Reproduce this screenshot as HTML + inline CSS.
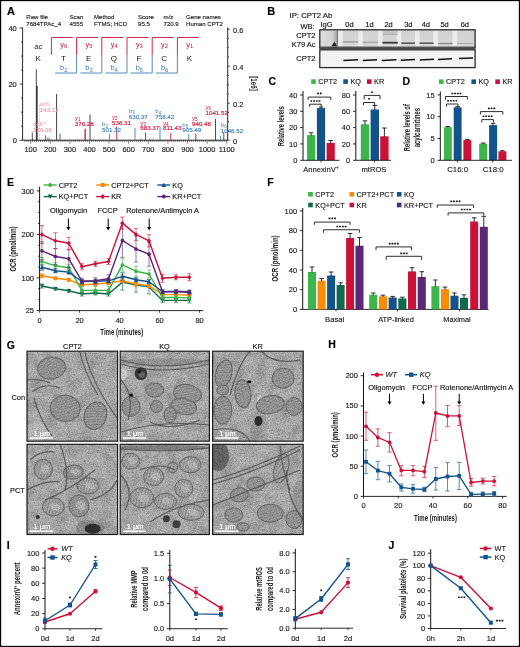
<!DOCTYPE html><html><head><meta charset="utf-8"><style>html,body{margin:0;padding:0;background:#fff;}svg{display:block;will-change:transform;} text{font-family:"Liberation Sans", sans-serif;}</style></head><body>
<svg width="520" height="647" viewBox="0 0 520 647" font-family="Liberation Sans, sans-serif">
<rect x="0.00" y="0.00" width="520.00" height="647.00" fill="#fff" />
<text x="7.00" y="15.00" font-size="11" text-anchor="start" fill="#000" stroke="#000" stroke-width="0.14" font-weight="bold" font-style="normal" >A</text>
<text x="26.30" y="18.70" font-size="6.1" text-anchor="start" fill="#1a1a1a" stroke="#1a1a1a" stroke-width="0.14" font-weight="normal" font-style="normal" >Raw file</text>
<text x="26.30" y="25.90" font-size="6.1" text-anchor="start" fill="#1a1a1a" stroke="#1a1a1a" stroke-width="0.14" font-weight="normal" font-style="normal" >7684TPAc_4</text>
<text x="69.50" y="18.70" font-size="6.1" text-anchor="start" fill="#1a1a1a" stroke="#1a1a1a" stroke-width="0.14" font-weight="normal" font-style="normal" >Scan</text>
<text x="69.50" y="25.90" font-size="6.1" text-anchor="start" fill="#1a1a1a" stroke="#1a1a1a" stroke-width="0.14" font-weight="normal" font-style="normal" >4555</text>
<text x="94.00" y="18.70" font-size="6.1" text-anchor="start" fill="#1a1a1a" stroke="#1a1a1a" stroke-width="0.14" font-weight="normal" font-style="normal" >Method</text>
<text x="94.00" y="25.90" font-size="6.1" text-anchor="start" fill="#1a1a1a" stroke="#1a1a1a" stroke-width="0.14" font-weight="normal" font-style="normal" >FTMS; HCD</text>
<text x="138.00" y="18.70" font-size="6.1" text-anchor="start" fill="#1a1a1a" stroke="#1a1a1a" stroke-width="0.14" font-weight="normal" font-style="normal" >Score</text>
<text x="138.00" y="25.90" font-size="6.1" text-anchor="start" fill="#1a1a1a" stroke="#1a1a1a" stroke-width="0.14" font-weight="normal" font-style="normal" >95.5</text>
<text x="163.50" y="18.70" font-size="6.1" text-anchor="start" fill="#1a1a1a" stroke="#1a1a1a" stroke-width="0.14" font-weight="normal" font-style="normal" >m/z</text>
<text x="163.50" y="25.90" font-size="6.1" text-anchor="start" fill="#1a1a1a" stroke="#1a1a1a" stroke-width="0.14" font-weight="normal" font-style="normal" >720.9</text>
<text x="186.00" y="18.70" font-size="6.1" text-anchor="start" fill="#1a1a1a" stroke="#1a1a1a" stroke-width="0.14" font-weight="normal" font-style="normal" >Gene names</text>
<text x="186.00" y="25.90" font-size="6.1" text-anchor="start" fill="#1a1a1a" stroke="#1a1a1a" stroke-width="0.14" font-weight="normal" font-style="normal" >Human CPT2</text>
<polyline points="51.40,55.00 51.40,37.50 72.90,37.50" stroke="#cc1137" stroke-width="0.9" fill="none" stroke-linejoin="round" />
<polyline points="76.60,55.00 76.60,37.50 98.10,37.50" stroke="#cc1137" stroke-width="0.9" fill="none" stroke-linejoin="round" />
<polyline points="55.10,73.00 76.60,73.00 76.60,55.00" stroke="#3f7fb5" stroke-width="0.9" fill="none" stroke-linejoin="round" />
<polyline points="101.80,55.00 101.80,37.50 123.30,37.50" stroke="#cc1137" stroke-width="0.9" fill="none" stroke-linejoin="round" />
<polyline points="80.30,73.00 101.80,73.00 101.80,55.00" stroke="#3f7fb5" stroke-width="0.9" fill="none" stroke-linejoin="round" />
<polyline points="127.00,55.00 127.00,37.50 148.50,37.50" stroke="#cc1137" stroke-width="0.9" fill="none" stroke-linejoin="round" />
<polyline points="105.50,73.00 127.00,73.00 127.00,55.00" stroke="#3f7fb5" stroke-width="0.9" fill="none" stroke-linejoin="round" />
<polyline points="152.20,55.00 152.20,37.50 173.70,37.50" stroke="#cc1137" stroke-width="0.9" fill="none" stroke-linejoin="round" />
<polyline points="130.70,73.00 152.20,73.00 152.20,55.00" stroke="#3f7fb5" stroke-width="0.9" fill="none" stroke-linejoin="round" />
<polyline points="177.40,55.00 177.40,37.50 198.90,37.50" stroke="#cc1137" stroke-width="0.9" fill="none" stroke-linejoin="round" />
<polyline points="155.90,73.00 177.40,73.00 177.40,55.00" stroke="#3f7fb5" stroke-width="0.9" fill="none" stroke-linejoin="round" />
<text x="38.20" y="60.80" font-size="8.0" text-anchor="middle" fill="#151515" stroke="#151515" stroke-width="0" font-weight="normal" font-style="normal" >K</text>
<text x="63.40" y="60.80" font-size="8.0" text-anchor="middle" fill="#151515" stroke="#151515" stroke-width="0" font-weight="normal" font-style="normal" >T</text>
<text x="88.60" y="60.80" font-size="8.0" text-anchor="middle" fill="#151515" stroke="#151515" stroke-width="0" font-weight="normal" font-style="normal" >E</text>
<text x="113.80" y="60.80" font-size="8.0" text-anchor="middle" fill="#151515" stroke="#151515" stroke-width="0" font-weight="normal" font-style="normal" >Q</text>
<text x="139.00" y="60.80" font-size="8.0" text-anchor="middle" fill="#151515" stroke="#151515" stroke-width="0" font-weight="normal" font-style="normal" >F</text>
<text x="164.20" y="60.80" font-size="8.0" text-anchor="middle" fill="#151515" stroke="#151515" stroke-width="0" font-weight="normal" font-style="normal" >C</text>
<text x="189.40" y="60.80" font-size="8.0" text-anchor="middle" fill="#151515" stroke="#151515" stroke-width="0" font-weight="normal" font-style="normal" >K</text>
<text x="38.20" y="49.40" font-size="7.4" text-anchor="middle" fill="#151515" stroke="#151515" stroke-width="0" font-weight="normal" font-style="normal" >ac</text>
<text x="63.80" y="46.6" font-size="7.4" text-anchor="middle" fill="#cc1137">y<tspan font-size="5.9" dy="1.6">6</tspan></text>
<text x="89.00" y="46.6" font-size="7.4" text-anchor="middle" fill="#cc1137">y<tspan font-size="5.9" dy="1.6">5</tspan></text>
<text x="114.20" y="46.6" font-size="7.4" text-anchor="middle" fill="#cc1137">y<tspan font-size="5.9" dy="1.6">4</tspan></text>
<text x="139.40" y="46.6" font-size="7.4" text-anchor="middle" fill="#cc1137">y<tspan font-size="5.9" dy="1.6">3</tspan></text>
<text x="164.60" y="46.6" font-size="7.4" text-anchor="middle" fill="#cc1137">y<tspan font-size="5.9" dy="1.6">2</tspan></text>
<text x="189.80" y="46.6" font-size="7.4" text-anchor="middle" fill="#cc1137">y<tspan font-size="5.9" dy="1.6">1</tspan></text>
<text x="63.80" y="69.9" font-size="7.4" text-anchor="middle" fill="#3f7fb5">b<tspan font-size="5.9" dy="1.6">2</tspan></text>
<text x="89.00" y="69.9" font-size="7.4" text-anchor="middle" fill="#3f7fb5">b<tspan font-size="5.9" dy="1.6">3</tspan></text>
<text x="114.20" y="69.9" font-size="7.4" text-anchor="middle" fill="#3f7fb5">b<tspan font-size="5.9" dy="1.6">4</tspan></text>
<text x="139.40" y="69.9" font-size="7.4" text-anchor="middle" fill="#3f7fb5">b<tspan font-size="5.9" dy="1.6">5</tspan></text>
<text x="164.60" y="69.9" font-size="7.4" text-anchor="middle" fill="#3f7fb5">b<tspan font-size="5.9" dy="1.6">6</tspan></text>
<line x1="22.60" y1="27.50" x2="22.60" y2="140.20" stroke="#111" stroke-width="0.9" />
<line x1="22.60" y1="140.20" x2="228.00" y2="140.20" stroke="#111" stroke-width="0.9" />
<line x1="227.70" y1="27.50" x2="227.70" y2="140.20" stroke="#111" stroke-width="0.9" />
<line x1="19.60" y1="140.20" x2="22.60" y2="140.20" stroke="#111" stroke-width="0.8" />
<line x1="21.00" y1="126.17" x2="22.60" y2="126.17" stroke="#111" stroke-width="0.8" />
<line x1="21.00" y1="112.15" x2="22.60" y2="112.15" stroke="#111" stroke-width="0.8" />
<line x1="21.00" y1="98.12" x2="22.60" y2="98.12" stroke="#111" stroke-width="0.8" />
<line x1="19.60" y1="84.10" x2="22.60" y2="84.10" stroke="#111" stroke-width="0.8" />
<line x1="21.00" y1="70.07" x2="22.60" y2="70.07" stroke="#111" stroke-width="0.8" />
<line x1="21.00" y1="56.05" x2="22.60" y2="56.05" stroke="#111" stroke-width="0.8" />
<line x1="21.00" y1="42.02" x2="22.60" y2="42.02" stroke="#111" stroke-width="0.8" />
<line x1="19.60" y1="28.00" x2="22.60" y2="28.00" stroke="#111" stroke-width="0.8" />
<text x="16.80" y="30.70" font-size="7.5" text-anchor="end" fill="#1a1a1a" stroke="#1a1a1a" stroke-width="0.14" font-weight="normal" font-style="normal" >40</text>
<text x="16.80" y="86.80" font-size="7.5" text-anchor="end" fill="#1a1a1a" stroke="#1a1a1a" stroke-width="0.14" font-weight="normal" font-style="normal" >20</text>
<text x="16.80" y="142.90" font-size="7.5" text-anchor="end" fill="#1a1a1a" stroke="#1a1a1a" stroke-width="0.14" font-weight="normal" font-style="normal" >0</text>
<line x1="227.70" y1="140.20" x2="229.90" y2="140.20" stroke="#111" stroke-width="0.7" />
<line x1="227.70" y1="130.95" x2="229.00" y2="130.95" stroke="#111" stroke-width="0.7" />
<line x1="227.70" y1="121.70" x2="229.00" y2="121.70" stroke="#111" stroke-width="0.7" />
<line x1="227.70" y1="112.45" x2="229.00" y2="112.45" stroke="#111" stroke-width="0.7" />
<line x1="227.70" y1="103.20" x2="229.90" y2="103.20" stroke="#111" stroke-width="0.7" />
<line x1="227.70" y1="93.95" x2="229.00" y2="93.95" stroke="#111" stroke-width="0.7" />
<line x1="227.70" y1="84.70" x2="229.00" y2="84.70" stroke="#111" stroke-width="0.7" />
<line x1="227.70" y1="75.45" x2="229.00" y2="75.45" stroke="#111" stroke-width="0.7" />
<line x1="227.70" y1="66.20" x2="229.90" y2="66.20" stroke="#111" stroke-width="0.7" />
<line x1="227.70" y1="56.95" x2="229.00" y2="56.95" stroke="#111" stroke-width="0.7" />
<line x1="227.70" y1="47.70" x2="229.00" y2="47.70" stroke="#111" stroke-width="0.7" />
<line x1="227.70" y1="38.45" x2="229.00" y2="38.45" stroke="#111" stroke-width="0.7" />
<line x1="227.70" y1="29.20" x2="229.90" y2="29.20" stroke="#111" stroke-width="0.7" />
<text x="233.00" y="32.90" font-size="7.5" text-anchor="start" fill="#1a1a1a" stroke="#1a1a1a" stroke-width="0.14" font-weight="normal" font-style="normal" >0.6</text>
<text x="233.00" y="69.90" font-size="7.5" text-anchor="start" fill="#1a1a1a" stroke="#1a1a1a" stroke-width="0.14" font-weight="normal" font-style="normal" >0.4</text>
<text x="233.00" y="106.90" font-size="7.5" text-anchor="start" fill="#1a1a1a" stroke="#1a1a1a" stroke-width="0.14" font-weight="normal" font-style="normal" >0.2</text>
<text x="233.00" y="143.90" font-size="7.5" text-anchor="start" fill="#1a1a1a" stroke="#1a1a1a" stroke-width="0.14" font-weight="normal" font-style="normal" >0</text>
<text transform="translate(251.40,83.50) rotate(90) scale(0.729,1)" font-size="8.5" text-anchor="middle" fill="#1a1a1a" font-weight="bold" font-style="normal">[1e6]</text>
<line x1="24.82" y1="140.20" x2="24.82" y2="141.90" stroke="#111" stroke-width="0.6" />
<line x1="26.78" y1="140.20" x2="26.78" y2="141.90" stroke="#111" stroke-width="0.6" />
<line x1="28.74" y1="140.20" x2="28.74" y2="141.90" stroke="#111" stroke-width="0.6" />
<line x1="30.70" y1="140.20" x2="30.70" y2="143.60" stroke="#111" stroke-width="0.6" />
<line x1="32.66" y1="140.20" x2="32.66" y2="141.90" stroke="#111" stroke-width="0.6" />
<line x1="34.62" y1="140.20" x2="34.62" y2="141.90" stroke="#111" stroke-width="0.6" />
<line x1="36.58" y1="140.20" x2="36.58" y2="141.90" stroke="#111" stroke-width="0.6" />
<line x1="38.54" y1="140.20" x2="38.54" y2="141.90" stroke="#111" stroke-width="0.6" />
<line x1="40.50" y1="140.20" x2="40.50" y2="141.90" stroke="#111" stroke-width="0.6" />
<line x1="42.46" y1="140.20" x2="42.46" y2="141.90" stroke="#111" stroke-width="0.6" />
<line x1="44.42" y1="140.20" x2="44.42" y2="141.90" stroke="#111" stroke-width="0.6" />
<line x1="46.38" y1="140.20" x2="46.38" y2="141.90" stroke="#111" stroke-width="0.6" />
<line x1="48.34" y1="140.20" x2="48.34" y2="141.90" stroke="#111" stroke-width="0.6" />
<line x1="50.30" y1="140.20" x2="50.30" y2="143.60" stroke="#111" stroke-width="0.6" />
<line x1="52.26" y1="140.20" x2="52.26" y2="141.90" stroke="#111" stroke-width="0.6" />
<line x1="54.22" y1="140.20" x2="54.22" y2="141.90" stroke="#111" stroke-width="0.6" />
<line x1="56.18" y1="140.20" x2="56.18" y2="141.90" stroke="#111" stroke-width="0.6" />
<line x1="58.14" y1="140.20" x2="58.14" y2="141.90" stroke="#111" stroke-width="0.6" />
<line x1="60.10" y1="140.20" x2="60.10" y2="141.90" stroke="#111" stroke-width="0.6" />
<line x1="62.06" y1="140.20" x2="62.06" y2="141.90" stroke="#111" stroke-width="0.6" />
<line x1="64.02" y1="140.20" x2="64.02" y2="141.90" stroke="#111" stroke-width="0.6" />
<line x1="65.98" y1="140.20" x2="65.98" y2="141.90" stroke="#111" stroke-width="0.6" />
<line x1="67.94" y1="140.20" x2="67.94" y2="141.90" stroke="#111" stroke-width="0.6" />
<line x1="69.90" y1="140.20" x2="69.90" y2="143.60" stroke="#111" stroke-width="0.6" />
<line x1="71.86" y1="140.20" x2="71.86" y2="141.90" stroke="#111" stroke-width="0.6" />
<line x1="73.82" y1="140.20" x2="73.82" y2="141.90" stroke="#111" stroke-width="0.6" />
<line x1="75.78" y1="140.20" x2="75.78" y2="141.90" stroke="#111" stroke-width="0.6" />
<line x1="77.74" y1="140.20" x2="77.74" y2="141.90" stroke="#111" stroke-width="0.6" />
<line x1="79.70" y1="140.20" x2="79.70" y2="141.90" stroke="#111" stroke-width="0.6" />
<line x1="81.66" y1="140.20" x2="81.66" y2="141.90" stroke="#111" stroke-width="0.6" />
<line x1="83.62" y1="140.20" x2="83.62" y2="141.90" stroke="#111" stroke-width="0.6" />
<line x1="85.58" y1="140.20" x2="85.58" y2="141.90" stroke="#111" stroke-width="0.6" />
<line x1="87.54" y1="140.20" x2="87.54" y2="141.90" stroke="#111" stroke-width="0.6" />
<line x1="89.50" y1="140.20" x2="89.50" y2="143.60" stroke="#111" stroke-width="0.6" />
<line x1="91.46" y1="140.20" x2="91.46" y2="141.90" stroke="#111" stroke-width="0.6" />
<line x1="93.42" y1="140.20" x2="93.42" y2="141.90" stroke="#111" stroke-width="0.6" />
<line x1="95.38" y1="140.20" x2="95.38" y2="141.90" stroke="#111" stroke-width="0.6" />
<line x1="97.34" y1="140.20" x2="97.34" y2="141.90" stroke="#111" stroke-width="0.6" />
<line x1="99.30" y1="140.20" x2="99.30" y2="141.90" stroke="#111" stroke-width="0.6" />
<line x1="101.26" y1="140.20" x2="101.26" y2="141.90" stroke="#111" stroke-width="0.6" />
<line x1="103.22" y1="140.20" x2="103.22" y2="141.90" stroke="#111" stroke-width="0.6" />
<line x1="105.18" y1="140.20" x2="105.18" y2="141.90" stroke="#111" stroke-width="0.6" />
<line x1="107.14" y1="140.20" x2="107.14" y2="141.90" stroke="#111" stroke-width="0.6" />
<line x1="109.10" y1="140.20" x2="109.10" y2="143.60" stroke="#111" stroke-width="0.6" />
<line x1="111.06" y1="140.20" x2="111.06" y2="141.90" stroke="#111" stroke-width="0.6" />
<line x1="113.02" y1="140.20" x2="113.02" y2="141.90" stroke="#111" stroke-width="0.6" />
<line x1="114.98" y1="140.20" x2="114.98" y2="141.90" stroke="#111" stroke-width="0.6" />
<line x1="116.94" y1="140.20" x2="116.94" y2="141.90" stroke="#111" stroke-width="0.6" />
<line x1="118.90" y1="140.20" x2="118.90" y2="141.90" stroke="#111" stroke-width="0.6" />
<line x1="120.86" y1="140.20" x2="120.86" y2="141.90" stroke="#111" stroke-width="0.6" />
<line x1="122.82" y1="140.20" x2="122.82" y2="141.90" stroke="#111" stroke-width="0.6" />
<line x1="124.78" y1="140.20" x2="124.78" y2="141.90" stroke="#111" stroke-width="0.6" />
<line x1="126.74" y1="140.20" x2="126.74" y2="141.90" stroke="#111" stroke-width="0.6" />
<line x1="128.70" y1="140.20" x2="128.70" y2="143.60" stroke="#111" stroke-width="0.6" />
<line x1="130.66" y1="140.20" x2="130.66" y2="141.90" stroke="#111" stroke-width="0.6" />
<line x1="132.62" y1="140.20" x2="132.62" y2="141.90" stroke="#111" stroke-width="0.6" />
<line x1="134.58" y1="140.20" x2="134.58" y2="141.90" stroke="#111" stroke-width="0.6" />
<line x1="136.54" y1="140.20" x2="136.54" y2="141.90" stroke="#111" stroke-width="0.6" />
<line x1="138.50" y1="140.20" x2="138.50" y2="141.90" stroke="#111" stroke-width="0.6" />
<line x1="140.46" y1="140.20" x2="140.46" y2="141.90" stroke="#111" stroke-width="0.6" />
<line x1="142.42" y1="140.20" x2="142.42" y2="141.90" stroke="#111" stroke-width="0.6" />
<line x1="144.38" y1="140.20" x2="144.38" y2="141.90" stroke="#111" stroke-width="0.6" />
<line x1="146.34" y1="140.20" x2="146.34" y2="141.90" stroke="#111" stroke-width="0.6" />
<line x1="148.30" y1="140.20" x2="148.30" y2="143.60" stroke="#111" stroke-width="0.6" />
<line x1="150.26" y1="140.20" x2="150.26" y2="141.90" stroke="#111" stroke-width="0.6" />
<line x1="152.22" y1="140.20" x2="152.22" y2="141.90" stroke="#111" stroke-width="0.6" />
<line x1="154.18" y1="140.20" x2="154.18" y2="141.90" stroke="#111" stroke-width="0.6" />
<line x1="156.14" y1="140.20" x2="156.14" y2="141.90" stroke="#111" stroke-width="0.6" />
<line x1="158.10" y1="140.20" x2="158.10" y2="141.90" stroke="#111" stroke-width="0.6" />
<line x1="160.06" y1="140.20" x2="160.06" y2="141.90" stroke="#111" stroke-width="0.6" />
<line x1="162.02" y1="140.20" x2="162.02" y2="141.90" stroke="#111" stroke-width="0.6" />
<line x1="163.98" y1="140.20" x2="163.98" y2="141.90" stroke="#111" stroke-width="0.6" />
<line x1="165.94" y1="140.20" x2="165.94" y2="141.90" stroke="#111" stroke-width="0.6" />
<line x1="167.90" y1="140.20" x2="167.90" y2="143.60" stroke="#111" stroke-width="0.6" />
<line x1="169.86" y1="140.20" x2="169.86" y2="141.90" stroke="#111" stroke-width="0.6" />
<line x1="171.82" y1="140.20" x2="171.82" y2="141.90" stroke="#111" stroke-width="0.6" />
<line x1="173.78" y1="140.20" x2="173.78" y2="141.90" stroke="#111" stroke-width="0.6" />
<line x1="175.74" y1="140.20" x2="175.74" y2="141.90" stroke="#111" stroke-width="0.6" />
<line x1="177.70" y1="140.20" x2="177.70" y2="141.90" stroke="#111" stroke-width="0.6" />
<line x1="179.66" y1="140.20" x2="179.66" y2="141.90" stroke="#111" stroke-width="0.6" />
<line x1="181.62" y1="140.20" x2="181.62" y2="141.90" stroke="#111" stroke-width="0.6" />
<line x1="183.58" y1="140.20" x2="183.58" y2="141.90" stroke="#111" stroke-width="0.6" />
<line x1="185.54" y1="140.20" x2="185.54" y2="141.90" stroke="#111" stroke-width="0.6" />
<line x1="187.50" y1="140.20" x2="187.50" y2="143.60" stroke="#111" stroke-width="0.6" />
<line x1="189.46" y1="140.20" x2="189.46" y2="141.90" stroke="#111" stroke-width="0.6" />
<line x1="191.42" y1="140.20" x2="191.42" y2="141.90" stroke="#111" stroke-width="0.6" />
<line x1="193.38" y1="140.20" x2="193.38" y2="141.90" stroke="#111" stroke-width="0.6" />
<line x1="195.34" y1="140.20" x2="195.34" y2="141.90" stroke="#111" stroke-width="0.6" />
<line x1="197.30" y1="140.20" x2="197.30" y2="141.90" stroke="#111" stroke-width="0.6" />
<line x1="199.26" y1="140.20" x2="199.26" y2="141.90" stroke="#111" stroke-width="0.6" />
<line x1="201.22" y1="140.20" x2="201.22" y2="141.90" stroke="#111" stroke-width="0.6" />
<line x1="203.18" y1="140.20" x2="203.18" y2="141.90" stroke="#111" stroke-width="0.6" />
<line x1="205.14" y1="140.20" x2="205.14" y2="141.90" stroke="#111" stroke-width="0.6" />
<line x1="207.10" y1="140.20" x2="207.10" y2="143.60" stroke="#111" stroke-width="0.6" />
<line x1="209.06" y1="140.20" x2="209.06" y2="141.90" stroke="#111" stroke-width="0.6" />
<line x1="211.02" y1="140.20" x2="211.02" y2="141.90" stroke="#111" stroke-width="0.6" />
<line x1="212.98" y1="140.20" x2="212.98" y2="141.90" stroke="#111" stroke-width="0.6" />
<line x1="214.94" y1="140.20" x2="214.94" y2="141.90" stroke="#111" stroke-width="0.6" />
<line x1="216.90" y1="140.20" x2="216.90" y2="141.90" stroke="#111" stroke-width="0.6" />
<line x1="218.86" y1="140.20" x2="218.86" y2="141.90" stroke="#111" stroke-width="0.6" />
<line x1="220.82" y1="140.20" x2="220.82" y2="141.90" stroke="#111" stroke-width="0.6" />
<line x1="222.78" y1="140.20" x2="222.78" y2="141.90" stroke="#111" stroke-width="0.6" />
<line x1="224.74" y1="140.20" x2="224.74" y2="141.90" stroke="#111" stroke-width="0.6" />
<line x1="226.70" y1="140.20" x2="226.70" y2="143.60" stroke="#111" stroke-width="0.6" />
<text x="30.70" y="152.20" font-size="7.5" text-anchor="middle" fill="#1a1a1a" stroke="#1a1a1a" stroke-width="0.14" font-weight="normal" font-style="normal" >100</text>
<text x="50.30" y="152.20" font-size="7.5" text-anchor="middle" fill="#1a1a1a" stroke="#1a1a1a" stroke-width="0.14" font-weight="normal" font-style="normal" >200</text>
<text x="69.90" y="152.20" font-size="7.5" text-anchor="middle" fill="#1a1a1a" stroke="#1a1a1a" stroke-width="0.14" font-weight="normal" font-style="normal" >300</text>
<text x="89.50" y="152.20" font-size="7.5" text-anchor="middle" fill="#1a1a1a" stroke="#1a1a1a" stroke-width="0.14" font-weight="normal" font-style="normal" >400</text>
<text x="109.10" y="152.20" font-size="7.5" text-anchor="middle" fill="#1a1a1a" stroke="#1a1a1a" stroke-width="0.14" font-weight="normal" font-style="normal" >500</text>
<text x="128.70" y="152.20" font-size="7.5" text-anchor="middle" fill="#1a1a1a" stroke="#1a1a1a" stroke-width="0.14" font-weight="normal" font-style="normal" >600</text>
<text x="148.30" y="152.20" font-size="7.5" text-anchor="middle" fill="#1a1a1a" stroke="#1a1a1a" stroke-width="0.14" font-weight="normal" font-style="normal" >700</text>
<text x="167.90" y="152.20" font-size="7.5" text-anchor="middle" fill="#1a1a1a" stroke="#1a1a1a" stroke-width="0.14" font-weight="normal" font-style="normal" >800</text>
<text x="187.50" y="152.20" font-size="7.5" text-anchor="middle" fill="#1a1a1a" stroke="#1a1a1a" stroke-width="0.14" font-weight="normal" font-style="normal" >900</text>
<text x="207.10" y="152.20" font-size="7.5" text-anchor="middle" fill="#1a1a1a" stroke="#1a1a1a" stroke-width="0.14" font-weight="normal" font-style="normal" >1000</text>
<text x="226.70" y="152.20" font-size="7.5" text-anchor="middle" fill="#1a1a1a" stroke="#1a1a1a" stroke-width="0.14" font-weight="normal" font-style="normal" >1100</text>
<line x1="32.30" y1="132.50" x2="32.30" y2="140.20" stroke="#222" stroke-width="0.8" />
<line x1="36.40" y1="69.20" x2="36.40" y2="140.20" stroke="#666" stroke-width="1.2" />
<line x1="37.00" y1="86.00" x2="37.00" y2="140.20" stroke="#111" stroke-width="1.1" />
<line x1="45.60" y1="135.40" x2="45.60" y2="140.20" stroke="#222" stroke-width="0.7" />
<line x1="47.90" y1="137.00" x2="47.90" y2="140.20" stroke="#333" stroke-width="0.6" />
<line x1="49.50" y1="138.00" x2="49.50" y2="140.20" stroke="#444" stroke-width="0.5" />
<line x1="56.60" y1="94.00" x2="56.60" y2="140.20" stroke="#444" stroke-width="1.0" />
<line x1="60.00" y1="133.80" x2="60.00" y2="140.20" stroke="#444" stroke-width="0.9" />
<line x1="75.00" y1="139.00" x2="75.00" y2="140.20" stroke="#666" stroke-width="0.4" />
<line x1="80.00" y1="139.00" x2="80.00" y2="140.20" stroke="#666" stroke-width="0.4" />
<line x1="85.00" y1="128.80" x2="85.00" y2="140.20" stroke="#cc1137" stroke-width="1.0" />
<line x1="85.60" y1="129.00" x2="85.60" y2="140.20" stroke="#333" stroke-width="0.5" />
<line x1="90.00" y1="114.50" x2="90.00" y2="140.20" stroke="#444" stroke-width="1.0" />
<line x1="109.60" y1="133.80" x2="109.60" y2="140.20" stroke="#3f7fb5" stroke-width="0.9" />
<line x1="116.80" y1="126.50" x2="116.80" y2="140.20" stroke="#cc1137" stroke-width="0.9" />
<line x1="135.00" y1="128.00" x2="135.00" y2="140.20" stroke="#3f7fb5" stroke-width="0.9" />
<line x1="145.50" y1="132.50" x2="145.50" y2="140.20" stroke="#cc1137" stroke-width="0.9" />
<line x1="141.00" y1="138.50" x2="141.00" y2="140.20" stroke="#333" stroke-width="0.5" />
<line x1="150.00" y1="138.50" x2="150.00" y2="140.20" stroke="#333" stroke-width="0.5" />
<line x1="153.00" y1="137.50" x2="153.00" y2="140.20" stroke="#e69a2a" stroke-width="0.6" />
<line x1="160.00" y1="126.30" x2="160.00" y2="140.20" stroke="#3f7fb5" stroke-width="0.9" />
<line x1="170.80" y1="133.00" x2="170.80" y2="140.20" stroke="#cc1137" stroke-width="0.9" />
<line x1="188.80" y1="133.80" x2="188.80" y2="140.20" stroke="#3f7fb5" stroke-width="0.9" />
<line x1="195.80" y1="133.80" x2="195.80" y2="140.20" stroke="#cc1137" stroke-width="0.9" />
<line x1="215.50" y1="118.80" x2="215.50" y2="140.20" stroke="#cc1137" stroke-width="1.0" />
<line x1="220.50" y1="136.00" x2="220.50" y2="140.20" stroke="#3f7fb5" stroke-width="0.8" />
<line x1="223.80" y1="132.50" x2="223.80" y2="140.20" stroke="#555" stroke-width="1.0" />
<line x1="39.50" y1="105.00" x2="39.50" y2="140.20" stroke="#eb9aab" stroke-width="0.6" stroke-dasharray="2,1.2"/>
<text x="39.50" y="106.00" font-size="6.2" fill="#eb9aab">acK</text>
<text x="39.50" y="111.70" font-size="6.2" text-anchor="start" fill="#eb9aab" stroke="#eb9aab" stroke-width="0.14" font-weight="normal" font-style="normal" >143.12</text>
<text x="33.00" y="126.30" font-size="6.2" fill="#eb9aab">acK*</text>
<text x="33.00" y="132.00" font-size="6.2" text-anchor="start" fill="#eb9aab" stroke="#eb9aab" stroke-width="0.14" font-weight="normal" font-style="normal" >126.09</text>
<text x="74.80" y="120.00" font-size="6.2" fill="#cc1137">y<tspan font-size="4.5" dy="1.2">1</tspan></text>
<text x="74.80" y="125.70" font-size="6.2" text-anchor="start" fill="#cc1137" stroke="#cc1137" stroke-width="0.14" font-weight="normal" font-style="normal" >376.28</text>
<text x="102.00" y="126.30" font-size="6.2" fill="#3f7fb5">b<tspan font-size="4.5" dy="1.2">2</tspan></text>
<text x="102.00" y="132.00" font-size="6.2" text-anchor="start" fill="#3f7fb5" stroke="#3f7fb5" stroke-width="0.14" font-weight="normal" font-style="normal" >501.32</text>
<text x="112.00" y="119.20" font-size="6.2" fill="#cc1137">y<tspan font-size="4.5" dy="1.2">2</tspan></text>
<text x="112.00" y="124.90" font-size="6.2" text-anchor="start" fill="#cc1137" stroke="#cc1137" stroke-width="0.14" font-weight="normal" font-style="normal" >536.31</text>
<text x="128.80" y="113.00" font-size="6.2" fill="#3f7fb5">b<tspan font-size="4.5" dy="1.2">3</tspan></text>
<text x="128.80" y="118.70" font-size="6.2" text-anchor="start" fill="#3f7fb5" stroke="#3f7fb5" stroke-width="0.14" font-weight="normal" font-style="normal" >630.37</text>
<text x="140.30" y="124.60" font-size="6.2" fill="#cc1137">y<tspan font-size="4.5" dy="1.2">3</tspan></text>
<text x="140.30" y="130.30" font-size="6.2" text-anchor="start" fill="#cc1137" stroke="#cc1137" stroke-width="0.14" font-weight="normal" font-style="normal" >683.37</text>
<text x="155.30" y="113.30" font-size="6.2" fill="#3f7fb5">b<tspan font-size="4.5" dy="1.2">4</tspan></text>
<text x="155.30" y="119.00" font-size="6.2" text-anchor="start" fill="#3f7fb5" stroke="#3f7fb5" stroke-width="0.14" font-weight="normal" font-style="normal" >758.42</text>
<text x="163.00" y="124.60" font-size="6.2" fill="#cc1137">y<tspan font-size="4.5" dy="1.2">4</tspan></text>
<text x="163.00" y="130.30" font-size="6.2" text-anchor="start" fill="#cc1137" stroke="#cc1137" stroke-width="0.14" font-weight="normal" font-style="normal" >811.43</text>
<text x="182.30" y="126.60" font-size="6.2" fill="#3f7fb5">b<tspan font-size="4.5" dy="1.2">5</tspan></text>
<text x="182.30" y="132.30" font-size="6.2" text-anchor="start" fill="#3f7fb5" stroke="#3f7fb5" stroke-width="0.14" font-weight="normal" font-style="normal" >905.49</text>
<text x="192.00" y="120.00" font-size="6.2" fill="#cc1137">y<tspan font-size="4.5" dy="1.2">5</tspan></text>
<text x="192.00" y="125.70" font-size="6.2" text-anchor="start" fill="#cc1137" stroke="#cc1137" stroke-width="0.14" font-weight="normal" font-style="normal" >940.48</text>
<text x="205.50" y="109.20" font-size="6.2" fill="#cc1137">y<tspan font-size="4.5" dy="1.2">6</tspan></text>
<text x="205.50" y="114.90" font-size="6.2" text-anchor="start" fill="#cc1137" stroke="#cc1137" stroke-width="0.14" font-weight="normal" font-style="normal" >1041.52</text>
<text x="220.80" y="127.20" font-size="6.2" fill="#3f7fb5">b<tspan font-size="4.5" dy="1.2">6</tspan></text>
<text x="220.80" y="132.90" font-size="6.2" text-anchor="start" fill="#3f7fb5" stroke="#3f7fb5" stroke-width="0.14" font-weight="normal" font-style="normal" >1046.52</text>
<text x="267.30" y="14.80" font-size="11" text-anchor="start" fill="#000" stroke="#000" stroke-width="0.14" font-weight="bold" font-style="normal" >B</text>
<text x="289.50" y="17.60" font-size="7.8" text-anchor="start" fill="#111" stroke="#111" stroke-width="0.14" font-weight="normal" font-style="normal" >IP: CPT2 Ab</text>
<text x="300.50" y="28.60" font-size="7.5" text-anchor="start" fill="#111" stroke="#111" stroke-width="0.14" font-weight="normal" font-style="normal" >WB:</text>
<text x="326.50" y="27.20" font-size="7.5" text-anchor="middle" fill="#111" stroke="#111" stroke-width="0.14" font-weight="normal" font-style="normal" >IgG</text>
<text x="349.50" y="27.20" font-size="7.5" text-anchor="middle" fill="#111" stroke="#111" stroke-width="0.14" font-weight="normal" font-style="normal" >0d</text>
<text x="369.50" y="27.20" font-size="7.5" text-anchor="middle" fill="#111" stroke="#111" stroke-width="0.14" font-weight="normal" font-style="normal" >1d</text>
<text x="388.60" y="27.20" font-size="7.5" text-anchor="middle" fill="#111" stroke="#111" stroke-width="0.14" font-weight="normal" font-style="normal" >2d</text>
<text x="408.30" y="27.20" font-size="7.5" text-anchor="middle" fill="#111" stroke="#111" stroke-width="0.14" font-weight="normal" font-style="normal" >3d</text>
<text x="425.80" y="27.20" font-size="7.5" text-anchor="middle" fill="#111" stroke="#111" stroke-width="0.14" font-weight="normal" font-style="normal" >4d</text>
<text x="444.60" y="27.20" font-size="7.5" text-anchor="middle" fill="#111" stroke="#111" stroke-width="0.14" font-weight="normal" font-style="normal" >5d</text>
<text x="464.80" y="27.20" font-size="7.5" text-anchor="middle" fill="#111" stroke="#111" stroke-width="0.14" font-weight="normal" font-style="normal" >6d</text>
<text x="315.50" y="37.80" font-size="7.5" text-anchor="end" fill="#111" stroke="#111" stroke-width="0.14" font-weight="normal" font-style="normal" >CPT2</text>
<text x="315.50" y="47.20" font-size="7.5" text-anchor="end" fill="#111" stroke="#111" stroke-width="0.14" font-weight="normal" font-style="normal" >K79 Ac</text>
<text x="315.50" y="61.30" font-size="7.5" text-anchor="end" fill="#111" stroke="#111" stroke-width="0.14" font-weight="normal" font-style="normal" >CPT2</text>
<defs><linearGradient id="lane" x1="0" x2="0" y1="0" y2="1"><stop offset="0" stop-color="#d2d2d2"/><stop offset="0.5" stop-color="#d4d4d4"/><stop offset="1" stop-color="#dcdcdc"/></linearGradient><linearGradient id="lane2" x1="0" x2="0" y1="0" y2="1"><stop offset="0" stop-color="#f0f0f0"/><stop offset="1" stop-color="#f4f4f4"/></linearGradient><filter id="bl1"><feGaussianBlur stdDeviation="0.5"/></filter></defs>
<rect x="319.80" y="29.80" width="155.30" height="18.20" fill="url(#lane)" />
<defs><linearGradient id="igg" x1="0" x2="1" y1="0" y2="0"><stop offset="0" stop-color="#dedede"/><stop offset="0.7" stop-color="#d0d0d0"/><stop offset="1" stop-color="#9a9a9a"/></linearGradient></defs>
<rect x="320.30" y="30.30" width="17.60" height="17.40" fill="url(#igg)" />
<rect x="338.20" y="29.80" width="4.60" height="18.20" fill="#ebebeb" filter="url(#bl1)"/>
<rect x="358.20" y="29.80" width="4.60" height="18.20" fill="#ebebeb" filter="url(#bl1)"/>
<rect x="377.90" y="29.80" width="4.60" height="18.20" fill="#ebebeb" filter="url(#bl1)"/>
<rect x="396.70" y="29.80" width="4.60" height="18.20" fill="#ebebeb" filter="url(#bl1)"/>
<rect x="415.00" y="29.80" width="4.60" height="18.20" fill="#ebebeb" filter="url(#bl1)"/>
<rect x="433.40" y="29.80" width="4.60" height="18.20" fill="#ebebeb" filter="url(#bl1)"/>
<rect x="452.50" y="29.80" width="4.60" height="18.20" fill="#ebebeb" filter="url(#bl1)"/>
<rect x="383.00" y="30.80" width="14.50" height="4.50" fill="#c4c4c4" filter="url(#bl1)"/>
<line x1="337.40" y1="31.00" x2="337.40" y2="47.50" stroke="#666" stroke-width="0.8" />
<polygon points="330.6,47.8 334.4,41.8 337.8,47.8" fill="#1a1a1a"/>
<rect x="342.80" y="40.95" width="15.40" height="1.90" fill="#a9a9a9" filter="url(#bl1)"/>
<rect x="362.80" y="41.50" width="15.20" height="1.80" fill="#acacac" filter="url(#bl1)"/>
<rect x="382.50" y="41.75" width="15.30" height="1.90" fill="#3d3d3d" filter="url(#bl1)"/>
<rect x="401.30" y="42.35" width="13.70" height="1.70" fill="#5a5a5a" filter="url(#bl1)"/>
<rect x="419.50" y="42.35" width="14.00" height="1.70" fill="#5e5e5e" filter="url(#bl1)"/>
<rect x="438.00" y="42.75" width="14.50" height="1.50" fill="#8a8a8a" filter="url(#bl1)"/>
<rect x="457.00" y="42.85" width="16.00" height="1.30" fill="#ababab" filter="url(#bl1)"/>
<rect x="383.00" y="33.60" width="14.50" height="1.40" fill="#b5b5b5" filter="url(#bl1)"/>
<rect x="320.40" y="46.20" width="154.40" height="1.60" fill="#8a8a8a" />
<rect x="319.80" y="49.80" width="155.30" height="17.80" fill="url(#lane2)" />
<line x1="343.4" y1="60.5" x2="358" y2="59.800000000000004" stroke="#111" stroke-width="1.5"/>
<line x1="362.8" y1="60.5" x2="377" y2="59.800000000000004" stroke="#111" stroke-width="1.5"/>
<line x1="381.8" y1="60.4" x2="396.5" y2="59.7" stroke="#111" stroke-width="1.5"/>
<line x1="400.7" y1="60.199999999999996" x2="415" y2="59.5" stroke="#111" stroke-width="1.5"/>
<line x1="419.8" y1="59.9" x2="434" y2="59.2" stroke="#111" stroke-width="1.5"/>
<line x1="438" y1="59.5" x2="452" y2="58.800000000000004" stroke="#111" stroke-width="1.5"/>
<line x1="459" y1="58.599999999999994" x2="473" y2="57.9" stroke="#111" stroke-width="1.5"/>
<rect x="319.8" y="29.8" width="155.3" height="18.2" fill="none" stroke="#2a2a2a" stroke-width="1.3"/>
<rect x="319.8" y="49.8" width="155.3" height="17.8" fill="none" stroke="#2a2a2a" stroke-width="1.3"/>
<line x1="319.80" y1="48.90" x2="475.10" y2="48.90" stroke="#333" stroke-width="1.0" />
<text x="268.50" y="84.50" font-size="10.5" text-anchor="start" fill="#000" stroke="#000" stroke-width="0.14" font-weight="bold" font-style="normal" >C</text>
<rect x="311.20" y="79.30" width="4.60" height="4.60" fill="#3db54a" />
<text x="318.30" y="84.20" font-size="7.3" text-anchor="start" fill="#1a1a1a" stroke="#1a1a1a" stroke-width="0.14" font-weight="normal" font-style="normal" >CPT2</text>
<rect x="343.30" y="79.30" width="4.60" height="4.60" fill="#13528b" />
<text x="350.40" y="84.20" font-size="7.3" text-anchor="start" fill="#1a1a1a" stroke="#1a1a1a" stroke-width="0.14" font-weight="normal" font-style="normal" >KQ</text>
<rect x="367.00" y="79.30" width="4.60" height="4.60" fill="#cc1137" />
<text x="374.10" y="84.20" font-size="7.3" text-anchor="start" fill="#1a1a1a" stroke="#1a1a1a" stroke-width="0.14" font-weight="normal" font-style="normal" >KR</text>
<line x1="303.00" y1="91.00" x2="303.00" y2="160.30" stroke="#111" stroke-width="1.0" />
<line x1="300.20" y1="95.00" x2="303.00" y2="95.00" stroke="#111" stroke-width="0.9" />
<text x="297.40" y="97.60" font-size="7.5" text-anchor="end" fill="#1a1a1a" stroke="#1a1a1a" stroke-width="0.14" font-weight="normal" font-style="normal" >40</text>
<line x1="300.20" y1="111.30" x2="303.00" y2="111.30" stroke="#111" stroke-width="0.9" />
<text x="297.40" y="113.90" font-size="7.5" text-anchor="end" fill="#1a1a1a" stroke="#1a1a1a" stroke-width="0.14" font-weight="normal" font-style="normal" >30</text>
<line x1="300.20" y1="127.60" x2="303.00" y2="127.60" stroke="#111" stroke-width="0.9" />
<text x="297.40" y="130.20" font-size="7.5" text-anchor="end" fill="#1a1a1a" stroke="#1a1a1a" stroke-width="0.14" font-weight="normal" font-style="normal" >20</text>
<line x1="300.20" y1="143.90" x2="303.00" y2="143.90" stroke="#111" stroke-width="0.9" />
<text x="297.40" y="146.50" font-size="7.5" text-anchor="end" fill="#1a1a1a" stroke="#1a1a1a" stroke-width="0.14" font-weight="normal" font-style="normal" >10</text>
<line x1="300.20" y1="160.30" x2="303.00" y2="160.30" stroke="#111" stroke-width="0.9" />
<text x="297.40" y="162.90" font-size="7.5" text-anchor="end" fill="#1a1a1a" stroke="#1a1a1a" stroke-width="0.14" font-weight="normal" font-style="normal" >0</text>
<rect x="307.00" y="135.10" width="8.20" height="25.20" fill="#3db54a" />
<line x1="311.10" y1="132.80" x2="311.10" y2="135.60" stroke="#1a1a1a" stroke-width="0.9" />
<line x1="308.80" y1="132.80" x2="313.40" y2="132.80" stroke="#1a1a1a" stroke-width="0.9" />
<rect x="316.90" y="108.10" width="8.20" height="52.20" fill="#13528b" />
<line x1="321.00" y1="107.00" x2="321.00" y2="108.60" stroke="#1a1a1a" stroke-width="0.9" />
<line x1="318.70" y1="107.00" x2="323.30" y2="107.00" stroke="#1a1a1a" stroke-width="0.9" />
<rect x="326.60" y="142.90" width="8.20" height="17.40" fill="#cc1137" />
<line x1="330.70" y1="140.50" x2="330.70" y2="143.40" stroke="#1a1a1a" stroke-width="0.9" />
<line x1="328.40" y1="140.50" x2="333.00" y2="140.50" stroke="#1a1a1a" stroke-width="0.9" />
<line x1="303.00" y1="160.30" x2="339.50" y2="160.30" stroke="#111" stroke-width="0.9" />
<line x1="321.00" y1="160.30" x2="321.00" y2="162.30" stroke="#111" stroke-width="0.8" />
<polyline points="309.60,106.80 309.60,104.20 321.20,104.20 321.20,106.80" stroke="#222" stroke-width="0.95" fill="none" stroke-linejoin="round" />
<rect x="310.35" y="100.17" width="1.85" height="1.67" fill="#1a1a1a" rx="0.3"/>
<rect x="313.10" y="100.17" width="1.85" height="1.67" fill="#1a1a1a" rx="0.3"/>
<rect x="315.85" y="100.17" width="1.85" height="1.67" fill="#1a1a1a" rx="0.3"/>
<rect x="318.60" y="100.17" width="1.85" height="1.67" fill="#1a1a1a" rx="0.3"/>
<polyline points="308.10,99.90 308.10,97.10 330.80,97.10 330.80,99.90" stroke="#222" stroke-width="0.95" fill="none" stroke-linejoin="round" />
<rect x="317.15" y="92.58" width="1.85" height="1.67" fill="#1a1a1a" rx="0.3"/>
<rect x="319.90" y="92.58" width="1.85" height="1.67" fill="#1a1a1a" rx="0.3"/>
<text x="321.00" y="172.10" font-size="7.6" text-anchor="middle" fill="#1a1a1a" stroke="#1a1a1a" stroke-width="0.14" font-weight="normal" font-style="normal" >AnnexinV<tspan font-size="5" dy="-2.8">+</tspan></text>
<text transform="translate(283.90,126.20) rotate(-90) scale(0.670,1)" font-size="8.7" text-anchor="middle" fill="#1a1a1a" font-weight="bold" font-style="normal">Relative levels</text>
<line x1="355.80" y1="91.00" x2="355.80" y2="160.30" stroke="#111" stroke-width="1.0" />
<line x1="353.00" y1="95.00" x2="355.80" y2="95.00" stroke="#111" stroke-width="0.9" />
<text x="350.20" y="97.60" font-size="7.5" text-anchor="end" fill="#1a1a1a" stroke="#1a1a1a" stroke-width="0.14" font-weight="normal" font-style="normal" >80</text>
<line x1="353.00" y1="111.30" x2="355.80" y2="111.30" stroke="#111" stroke-width="0.9" />
<text x="350.20" y="113.90" font-size="7.5" text-anchor="end" fill="#1a1a1a" stroke="#1a1a1a" stroke-width="0.14" font-weight="normal" font-style="normal" >60</text>
<line x1="353.00" y1="127.60" x2="355.80" y2="127.60" stroke="#111" stroke-width="0.9" />
<text x="350.20" y="130.20" font-size="7.5" text-anchor="end" fill="#1a1a1a" stroke="#1a1a1a" stroke-width="0.14" font-weight="normal" font-style="normal" >40</text>
<line x1="353.00" y1="143.90" x2="355.80" y2="143.90" stroke="#111" stroke-width="0.9" />
<text x="350.20" y="146.50" font-size="7.5" text-anchor="end" fill="#1a1a1a" stroke="#1a1a1a" stroke-width="0.14" font-weight="normal" font-style="normal" >20</text>
<line x1="353.00" y1="160.30" x2="355.80" y2="160.30" stroke="#111" stroke-width="0.9" />
<text x="350.20" y="162.90" font-size="7.5" text-anchor="end" fill="#1a1a1a" stroke="#1a1a1a" stroke-width="0.14" font-weight="normal" font-style="normal" >0</text>
<rect x="360.80" y="124.30" width="8.40" height="36.00" fill="#3db54a" />
<line x1="365.00" y1="120.80" x2="365.00" y2="124.80" stroke="#1a1a1a" stroke-width="0.9" />
<line x1="362.70" y1="120.80" x2="367.30" y2="120.80" stroke="#1a1a1a" stroke-width="0.9" />
<rect x="370.60" y="109.50" width="8.40" height="50.80" fill="#13528b" />
<line x1="374.80" y1="105.50" x2="374.80" y2="110.00" stroke="#1a1a1a" stroke-width="0.9" />
<line x1="372.50" y1="105.50" x2="377.10" y2="105.50" stroke="#1a1a1a" stroke-width="0.9" />
<rect x="380.20" y="136.30" width="8.40" height="24.00" fill="#cc1137" />
<line x1="384.40" y1="128.00" x2="384.40" y2="136.80" stroke="#1a1a1a" stroke-width="0.9" />
<line x1="382.10" y1="128.00" x2="386.70" y2="128.00" stroke="#1a1a1a" stroke-width="0.9" />
<line x1="355.80" y1="160.30" x2="391.00" y2="160.30" stroke="#111" stroke-width="0.9" />
<line x1="374.60" y1="160.30" x2="374.60" y2="162.30" stroke="#111" stroke-width="0.8" />
<polyline points="363.50,105.20 363.50,102.50 374.60,102.50 374.60,105.20" stroke="#222" stroke-width="0.95" fill="none" stroke-linejoin="round" />
<rect x="368.12" y="97.88" width="1.85" height="1.67" fill="#1a1a1a" rx="0.3"/>
<polyline points="364.20,99.40 364.20,95.40 380.00,95.40 380.00,99.40" stroke="#222" stroke-width="0.95" fill="none" stroke-linejoin="round" />
<rect x="371.18" y="91.38" width="1.85" height="1.67" fill="#1a1a1a" rx="0.3"/>
<text x="374.00" y="172.10" font-size="7.6" text-anchor="middle" fill="#1a1a1a" stroke="#1a1a1a" stroke-width="0.14" font-weight="normal" font-style="normal" >mtROS</text>
<text x="402.50" y="84.50" font-size="10.5" text-anchor="start" fill="#000" stroke="#000" stroke-width="0.14" font-weight="bold" font-style="normal" >D</text>
<rect x="439.00" y="79.40" width="4.60" height="4.60" fill="#3db54a" />
<text x="446.10" y="84.30" font-size="7.3" text-anchor="start" fill="#1a1a1a" stroke="#1a1a1a" stroke-width="0.14" font-weight="normal" font-style="normal" >CPT2</text>
<rect x="471.40" y="79.40" width="4.60" height="4.60" fill="#13528b" />
<text x="478.50" y="84.30" font-size="7.3" text-anchor="start" fill="#1a1a1a" stroke="#1a1a1a" stroke-width="0.14" font-weight="normal" font-style="normal" >KQ</text>
<rect x="495.30" y="79.40" width="4.60" height="4.60" fill="#cc1137" />
<text x="502.40" y="84.30" font-size="7.3" text-anchor="start" fill="#1a1a1a" stroke="#1a1a1a" stroke-width="0.14" font-weight="normal" font-style="normal" >KR</text>
<line x1="440.30" y1="91.50" x2="440.30" y2="160.30" stroke="#111" stroke-width="1.0" />
<line x1="437.50" y1="94.90" x2="440.30" y2="94.90" stroke="#111" stroke-width="0.9" />
<text x="434.70" y="97.50" font-size="7.5" text-anchor="end" fill="#1a1a1a" stroke="#1a1a1a" stroke-width="0.14" font-weight="normal" font-style="normal" >15</text>
<line x1="437.50" y1="116.70" x2="440.30" y2="116.70" stroke="#111" stroke-width="0.9" />
<text x="434.70" y="119.30" font-size="7.5" text-anchor="end" fill="#1a1a1a" stroke="#1a1a1a" stroke-width="0.14" font-weight="normal" font-style="normal" >10</text>
<line x1="437.50" y1="138.50" x2="440.30" y2="138.50" stroke="#111" stroke-width="0.9" />
<text x="434.70" y="141.10" font-size="7.5" text-anchor="end" fill="#1a1a1a" stroke="#1a1a1a" stroke-width="0.14" font-weight="normal" font-style="normal" >5</text>
<line x1="437.50" y1="160.30" x2="440.30" y2="160.30" stroke="#111" stroke-width="0.9" />
<text x="434.70" y="162.90" font-size="7.5" text-anchor="end" fill="#1a1a1a" stroke="#1a1a1a" stroke-width="0.14" font-weight="normal" font-style="normal" >0</text>
<rect x="443.90" y="127.20" width="7.90" height="33.10" fill="#3db54a" />
<line x1="447.85" y1="126.50" x2="447.85" y2="127.70" stroke="#1a1a1a" stroke-width="0.9" />
<line x1="445.55" y1="126.50" x2="450.15" y2="126.50" stroke="#1a1a1a" stroke-width="0.9" />
<rect x="453.70" y="107.30" width="7.90" height="53.00" fill="#13528b" />
<line x1="457.65" y1="106.60" x2="457.65" y2="107.80" stroke="#1a1a1a" stroke-width="0.9" />
<line x1="455.35" y1="106.60" x2="459.95" y2="106.60" stroke="#1a1a1a" stroke-width="0.9" />
<rect x="463.40" y="140.10" width="7.90" height="20.20" fill="#cc1137" />
<line x1="467.35" y1="139.40" x2="467.35" y2="140.60" stroke="#1a1a1a" stroke-width="0.9" />
<line x1="465.05" y1="139.40" x2="469.65" y2="139.40" stroke="#1a1a1a" stroke-width="0.9" />
<rect x="479.20" y="143.70" width="8.00" height="16.60" fill="#3db54a" />
<line x1="483.20" y1="143.00" x2="483.20" y2="144.20" stroke="#1a1a1a" stroke-width="0.9" />
<line x1="480.90" y1="143.00" x2="485.50" y2="143.00" stroke="#1a1a1a" stroke-width="0.9" />
<rect x="489.10" y="125.10" width="8.00" height="35.20" fill="#13528b" />
<line x1="493.10" y1="123.30" x2="493.10" y2="125.60" stroke="#1a1a1a" stroke-width="0.9" />
<line x1="490.80" y1="123.30" x2="495.40" y2="123.30" stroke="#1a1a1a" stroke-width="0.9" />
<rect x="498.40" y="151.30" width="8.00" height="9.00" fill="#cc1137" />
<line x1="502.40" y1="150.70" x2="502.40" y2="151.80" stroke="#1a1a1a" stroke-width="0.9" />
<line x1="500.10" y1="150.70" x2="504.70" y2="150.70" stroke="#1a1a1a" stroke-width="0.9" />
<line x1="440.30" y1="160.30" x2="512.00" y2="160.30" stroke="#111" stroke-width="0.9" />
<line x1="457.40" y1="160.30" x2="457.40" y2="162.50" stroke="#111" stroke-width="0.9" />
<line x1="492.80" y1="160.30" x2="492.80" y2="162.50" stroke="#111" stroke-width="0.9" />
<polyline points="446.50,106.60 446.50,104.00 458.00,104.00 458.00,106.60" stroke="#222" stroke-width="0.95" fill="none" stroke-linejoin="round" />
<rect x="447.20" y="99.88" width="1.85" height="1.67" fill="#1a1a1a" rx="0.3"/>
<rect x="449.95" y="99.88" width="1.85" height="1.67" fill="#1a1a1a" rx="0.3"/>
<rect x="452.70" y="99.88" width="1.85" height="1.67" fill="#1a1a1a" rx="0.3"/>
<rect x="455.45" y="99.88" width="1.85" height="1.67" fill="#1a1a1a" rx="0.3"/>
<polyline points="445.50,99.70 445.50,96.50 467.40,96.50 467.40,99.70" stroke="#222" stroke-width="0.95" fill="none" stroke-linejoin="round" />
<rect x="451.40" y="92.67" width="1.85" height="1.67" fill="#1a1a1a" rx="0.3"/>
<rect x="454.15" y="92.67" width="1.85" height="1.67" fill="#1a1a1a" rx="0.3"/>
<rect x="456.90" y="92.67" width="1.85" height="1.67" fill="#1a1a1a" rx="0.3"/>
<rect x="459.65" y="92.67" width="1.85" height="1.67" fill="#1a1a1a" rx="0.3"/>
<polyline points="481.80,122.50 481.80,119.60 493.40,119.60 493.40,122.50" stroke="#222" stroke-width="0.95" fill="none" stroke-linejoin="round" />
<rect x="482.55" y="115.38" width="1.85" height="1.67" fill="#1a1a1a" rx="0.3"/>
<rect x="485.30" y="115.38" width="1.85" height="1.67" fill="#1a1a1a" rx="0.3"/>
<rect x="488.05" y="115.38" width="1.85" height="1.67" fill="#1a1a1a" rx="0.3"/>
<rect x="490.80" y="115.38" width="1.85" height="1.67" fill="#1a1a1a" rx="0.3"/>
<polyline points="480.40,114.50 480.40,111.60 502.80,111.60 502.80,114.50" stroke="#222" stroke-width="0.95" fill="none" stroke-linejoin="round" />
<rect x="487.93" y="107.58" width="1.85" height="1.67" fill="#1a1a1a" rx="0.3"/>
<rect x="490.68" y="107.58" width="1.85" height="1.67" fill="#1a1a1a" rx="0.3"/>
<rect x="493.43" y="107.58" width="1.85" height="1.67" fill="#1a1a1a" rx="0.3"/>
<text x="457.60" y="172.10" font-size="7.8" text-anchor="middle" fill="#1a1a1a" stroke="#1a1a1a" stroke-width="0.14" font-weight="normal" font-style="normal" >C16:0</text>
<text x="493.10" y="172.10" font-size="7.8" text-anchor="middle" fill="#1a1a1a" stroke="#1a1a1a" stroke-width="0.14" font-weight="normal" font-style="normal" >C18:0</text>
<text transform="translate(409.80,127.70) rotate(-90) scale(0.668,1)" font-size="8.7" text-anchor="middle" fill="#1a1a1a" font-weight="bold" font-style="normal">Relative levels of</text>
<text transform="translate(419.50,127.70) rotate(-90) scale(0.679,1)" font-size="8.7" text-anchor="middle" fill="#1a1a1a" font-weight="bold" font-style="normal">acylcarnitines</text>
<text x="7.00" y="186.30" font-size="10.5" text-anchor="start" fill="#000" stroke="#000" stroke-width="0.14" font-weight="bold" font-style="normal" >E</text>
<line x1="39.60" y1="186.70" x2="39.60" y2="310.60" stroke="#111" stroke-width="1.0" />
<line x1="36.80" y1="190.90" x2="39.60" y2="190.90" stroke="#111" stroke-width="0.9" />
<text x="34.00" y="193.50" font-size="7.5" text-anchor="end" fill="#1a1a1a" stroke="#1a1a1a" stroke-width="0.14" font-weight="normal" font-style="normal" >300</text>
<line x1="36.80" y1="234.40" x2="39.60" y2="234.40" stroke="#111" stroke-width="0.9" />
<text x="34.00" y="237.00" font-size="7.5" text-anchor="end" fill="#1a1a1a" stroke="#1a1a1a" stroke-width="0.14" font-weight="normal" font-style="normal" >200</text>
<line x1="36.80" y1="277.90" x2="39.60" y2="277.90" stroke="#111" stroke-width="0.9" />
<text x="34.00" y="280.50" font-size="7.5" text-anchor="end" fill="#1a1a1a" stroke="#1a1a1a" stroke-width="0.14" font-weight="normal" font-style="normal" >100</text>
<line x1="36.80" y1="310.60" x2="39.60" y2="310.60" stroke="#111" stroke-width="0.9" />
<text x="34.00" y="313.20" font-size="7.5" text-anchor="end" fill="#1a1a1a" stroke="#1a1a1a" stroke-width="0.14" font-weight="normal" font-style="normal" >25</text>
<line x1="38.00" y1="201.77" x2="39.60" y2="201.77" stroke="#111" stroke-width="0.8" />
<line x1="38.00" y1="212.65" x2="39.60" y2="212.65" stroke="#111" stroke-width="0.8" />
<line x1="38.00" y1="223.52" x2="39.60" y2="223.52" stroke="#111" stroke-width="0.8" />
<line x1="38.00" y1="245.27" x2="39.60" y2="245.27" stroke="#111" stroke-width="0.8" />
<line x1="38.00" y1="256.15" x2="39.60" y2="256.15" stroke="#111" stroke-width="0.8" />
<line x1="38.00" y1="267.02" x2="39.60" y2="267.02" stroke="#111" stroke-width="0.8" />
<line x1="38.00" y1="288.77" x2="39.60" y2="288.77" stroke="#111" stroke-width="0.8" />
<line x1="38.00" y1="299.65" x2="39.60" y2="299.65" stroke="#111" stroke-width="0.8" />
<line x1="39.60" y1="310.60" x2="203.30" y2="310.60" stroke="#111" stroke-width="0.9" />
<line x1="39.60" y1="310.60" x2="39.60" y2="312.80" stroke="#111" stroke-width="0.8" />
<text x="39.60" y="322.50" font-size="7.5" text-anchor="middle" fill="#1a1a1a" stroke="#1a1a1a" stroke-width="0.14" font-weight="normal" font-style="normal" >0</text>
<line x1="79.60" y1="310.60" x2="79.60" y2="312.80" stroke="#111" stroke-width="0.8" />
<text x="79.60" y="322.50" font-size="7.5" text-anchor="middle" fill="#1a1a1a" stroke="#1a1a1a" stroke-width="0.14" font-weight="normal" font-style="normal" >20</text>
<line x1="119.60" y1="310.60" x2="119.60" y2="312.80" stroke="#111" stroke-width="0.8" />
<text x="119.60" y="322.50" font-size="7.5" text-anchor="middle" fill="#1a1a1a" stroke="#1a1a1a" stroke-width="0.14" font-weight="normal" font-style="normal" >40</text>
<line x1="159.60" y1="310.60" x2="159.60" y2="312.80" stroke="#111" stroke-width="0.8" />
<text x="159.60" y="322.50" font-size="7.5" text-anchor="middle" fill="#1a1a1a" stroke="#1a1a1a" stroke-width="0.14" font-weight="normal" font-style="normal" >60</text>
<line x1="199.60" y1="310.60" x2="199.60" y2="312.80" stroke="#111" stroke-width="0.8" />
<text x="199.60" y="322.50" font-size="7.5" text-anchor="middle" fill="#1a1a1a" stroke="#1a1a1a" stroke-width="0.14" font-weight="normal" font-style="normal" >80</text>
<text transform="translate(121.75,335.10) scale(0.696,1)" font-size="8.7" text-anchor="middle" fill="#1a1a1a" font-weight="bold" font-style="normal">Time (minutes)</text>
<text transform="translate(16.20,249.00) rotate(-90) scale(0.684,1)" font-size="8.7" text-anchor="middle" fill="#1a1a1a" font-weight="bold" font-style="normal">OCR (pmol/min)</text>
<line x1="43.70" y1="185.00" x2="56.70" y2="185.00" stroke="#3db54a" stroke-width="1.4" />
<circle cx="50.20" cy="185.00" r="2.00" fill="#3db54a"/>
<text x="58.70" y="187.60" font-size="7.3" text-anchor="start" fill="#1a1a1a" stroke="#1a1a1a" stroke-width="0.14" font-weight="normal" font-style="normal" >CPT2</text>
<line x1="96.20" y1="185.00" x2="109.20" y2="185.00" stroke="#fa8c05" stroke-width="1.4" />
<rect x="100.70" y="183.00" width="4.00" height="4.00" fill="#fa8c05"/>
<text x="111.20" y="187.60" font-size="7.3" text-anchor="start" fill="#1a1a1a" stroke="#1a1a1a" stroke-width="0.14" font-weight="normal" font-style="normal" >CPT2+PCT</text>
<line x1="157.30" y1="185.00" x2="170.30" y2="185.00" stroke="#13528b" stroke-width="1.4" />
<polygon points="161.40,187.00 166.20,187.00 163.80,182.60" fill="#13528b"/>
<text x="172.30" y="187.60" font-size="7.3" text-anchor="start" fill="#1a1a1a" stroke="#1a1a1a" stroke-width="0.14" font-weight="normal" font-style="normal" >KQ</text>
<line x1="43.70" y1="196.60" x2="56.70" y2="196.60" stroke="#0f6a4c" stroke-width="1.4" />
<polygon points="47.80,194.60 52.60,194.60 50.20,199.00" fill="#0f6a4c"/>
<text x="58.70" y="199.20" font-size="7.3" text-anchor="start" fill="#1a1a1a" stroke="#1a1a1a" stroke-width="0.14" font-weight="normal" font-style="normal" >KQ+PCT</text>
<line x1="96.20" y1="196.60" x2="109.20" y2="196.60" stroke="#cc1137" stroke-width="1.4" />
<polygon points="102.70,194.00 104.90,196.60 102.70,199.20 100.50,196.60" fill="#cc1137"/>
<text x="111.20" y="199.20" font-size="7.3" text-anchor="start" fill="#1a1a1a" stroke="#1a1a1a" stroke-width="0.14" font-weight="normal" font-style="normal" >KR</text>
<line x1="157.30" y1="196.60" x2="170.30" y2="196.60" stroke="#5b2777" stroke-width="1.4" />
<circle cx="163.80" cy="196.60" r="2.00" fill="#5b2777"/>
<text x="172.30" y="199.20" font-size="7.3" text-anchor="start" fill="#1a1a1a" stroke="#1a1a1a" stroke-width="0.14" font-weight="normal" font-style="normal" >KR+PCT</text>
<text x="68.50" y="212.80" font-size="7.5" text-anchor="middle" fill="#111" stroke="#111" stroke-width="0.14" font-weight="normal" font-style="normal" >Oligomycin</text>
<text x="107.60" y="212.80" font-size="7.5" text-anchor="middle" fill="#111" stroke="#111" stroke-width="0.14" font-weight="normal" font-style="normal" >FCCP</text>
<text x="162.50" y="212.80" font-size="7.4" text-anchor="middle" fill="#111" stroke="#111" stroke-width="0.14" font-weight="normal" font-style="normal" >Rotenone/Antimycin A</text>
<line x1="68.40" y1="218.50" x2="68.40" y2="228.50" stroke="#000" stroke-width="1.0" />
<polygon points="66.40,227.10 70.40,227.10 68.40,230.50" fill="#000"/>
<line x1="108.20" y1="218.50" x2="108.20" y2="228.50" stroke="#000" stroke-width="1.0" />
<polygon points="106.20,227.10 110.20,227.10 108.20,230.50" fill="#000"/>
<line x1="149.20" y1="218.50" x2="149.20" y2="228.50" stroke="#000" stroke-width="1.0" />
<polygon points="147.20,227.10 151.20,227.10 149.20,230.50" fill="#000"/>
<g opacity="0.7">
<line x1="41.90" y1="284.00" x2="41.90" y2="288.00" stroke="#0f6a4c" stroke-width="0.9" />
<line x1="39.80" y1="284.00" x2="44.00" y2="284.00" stroke="#0f6a4c" stroke-width="0.9" />
<line x1="39.80" y1="288.00" x2="44.00" y2="288.00" stroke="#0f6a4c" stroke-width="0.9" />
<line x1="55.40" y1="287.30" x2="55.40" y2="290.30" stroke="#0f6a4c" stroke-width="0.9" />
<line x1="53.30" y1="287.30" x2="57.50" y2="287.30" stroke="#0f6a4c" stroke-width="0.9" />
<line x1="53.30" y1="290.30" x2="57.50" y2="290.30" stroke="#0f6a4c" stroke-width="0.9" />
<line x1="68.80" y1="289.30" x2="68.80" y2="292.30" stroke="#0f6a4c" stroke-width="0.9" />
<line x1="66.70" y1="289.30" x2="70.90" y2="289.30" stroke="#0f6a4c" stroke-width="0.9" />
<line x1="66.70" y1="292.30" x2="70.90" y2="292.30" stroke="#0f6a4c" stroke-width="0.9" />
<line x1="81.90" y1="292.00" x2="81.90" y2="296.00" stroke="#0f6a4c" stroke-width="0.9" />
<line x1="79.80" y1="292.00" x2="84.00" y2="292.00" stroke="#0f6a4c" stroke-width="0.9" />
<line x1="79.80" y1="296.00" x2="84.00" y2="296.00" stroke="#0f6a4c" stroke-width="0.9" />
<line x1="95.40" y1="291.00" x2="95.40" y2="295.00" stroke="#0f6a4c" stroke-width="0.9" />
<line x1="93.30" y1="291.00" x2="97.50" y2="291.00" stroke="#0f6a4c" stroke-width="0.9" />
<line x1="93.30" y1="295.00" x2="97.50" y2="295.00" stroke="#0f6a4c" stroke-width="0.9" />
<line x1="108.50" y1="292.00" x2="108.50" y2="296.00" stroke="#0f6a4c" stroke-width="0.9" />
<line x1="106.40" y1="292.00" x2="110.60" y2="292.00" stroke="#0f6a4c" stroke-width="0.9" />
<line x1="106.40" y1="296.00" x2="110.60" y2="296.00" stroke="#0f6a4c" stroke-width="0.9" />
<line x1="122.40" y1="274.10" x2="122.40" y2="290.10" stroke="#0f6a4c" stroke-width="0.9" />
<line x1="120.30" y1="274.10" x2="124.50" y2="274.10" stroke="#0f6a4c" stroke-width="0.9" />
<line x1="120.30" y1="290.10" x2="124.50" y2="290.10" stroke="#0f6a4c" stroke-width="0.9" />
<line x1="136.00" y1="278.00" x2="136.00" y2="292.00" stroke="#0f6a4c" stroke-width="0.9" />
<line x1="133.90" y1="278.00" x2="138.10" y2="278.00" stroke="#0f6a4c" stroke-width="0.9" />
<line x1="133.90" y1="292.00" x2="138.10" y2="292.00" stroke="#0f6a4c" stroke-width="0.9" />
<line x1="149.00" y1="279.90" x2="149.00" y2="293.90" stroke="#0f6a4c" stroke-width="0.9" />
<line x1="146.90" y1="279.90" x2="151.10" y2="279.90" stroke="#0f6a4c" stroke-width="0.9" />
<line x1="146.90" y1="293.90" x2="151.10" y2="293.90" stroke="#0f6a4c" stroke-width="0.9" />
<line x1="162.50" y1="298.40" x2="162.50" y2="302.40" stroke="#0f6a4c" stroke-width="0.9" />
<line x1="160.40" y1="298.40" x2="164.60" y2="298.40" stroke="#0f6a4c" stroke-width="0.9" />
<line x1="160.40" y1="302.40" x2="164.60" y2="302.40" stroke="#0f6a4c" stroke-width="0.9" />
<line x1="176.00" y1="298.40" x2="176.00" y2="302.40" stroke="#0f6a4c" stroke-width="0.9" />
<line x1="173.90" y1="298.40" x2="178.10" y2="298.40" stroke="#0f6a4c" stroke-width="0.9" />
<line x1="173.90" y1="302.40" x2="178.10" y2="302.40" stroke="#0f6a4c" stroke-width="0.9" />
<line x1="189.40" y1="297.90" x2="189.40" y2="302.90" stroke="#0f6a4c" stroke-width="0.9" />
<line x1="187.30" y1="297.90" x2="191.50" y2="297.90" stroke="#0f6a4c" stroke-width="0.9" />
<line x1="187.30" y1="302.90" x2="191.50" y2="302.90" stroke="#0f6a4c" stroke-width="0.9" />
</g>
<polyline points="41.90,286.00 55.40,288.80 68.80,290.80 81.90,294.00 95.40,293.00 108.50,294.00 122.40,282.10 136.00,285.00 149.00,286.90 162.50,300.40 176.00,300.40 189.40,300.40" stroke="#0f6a4c" stroke-width="1.4" fill="none" stroke-linejoin="round" />
<polygon points="39.68,284.15 44.12,284.15 41.90,288.22" fill="#0f6a4c"/>
<polygon points="53.18,286.95 57.62,286.95 55.40,291.02" fill="#0f6a4c"/>
<polygon points="66.58,288.95 71.02,288.95 68.80,293.02" fill="#0f6a4c"/>
<polygon points="79.68,292.15 84.12,292.15 81.90,296.22" fill="#0f6a4c"/>
<polygon points="93.18,291.15 97.62,291.15 95.40,295.22" fill="#0f6a4c"/>
<polygon points="106.28,292.15 110.72,292.15 108.50,296.22" fill="#0f6a4c"/>
<polygon points="120.18,280.25 124.62,280.25 122.40,284.32" fill="#0f6a4c"/>
<polygon points="133.78,283.15 138.22,283.15 136.00,287.22" fill="#0f6a4c"/>
<polygon points="146.78,285.05 151.22,285.05 149.00,289.12" fill="#0f6a4c"/>
<polygon points="160.28,298.55 164.72,298.55 162.50,302.62" fill="#0f6a4c"/>
<polygon points="173.78,298.55 178.22,298.55 176.00,302.62" fill="#0f6a4c"/>
<polygon points="187.18,298.55 191.62,298.55 189.40,302.62" fill="#0f6a4c"/>
<g opacity="0.7">
<line x1="41.90" y1="273.80" x2="41.90" y2="277.80" stroke="#fa8c05" stroke-width="0.9" />
<line x1="39.80" y1="273.80" x2="44.00" y2="273.80" stroke="#fa8c05" stroke-width="0.9" />
<line x1="39.80" y1="277.80" x2="44.00" y2="277.80" stroke="#fa8c05" stroke-width="0.9" />
<line x1="55.40" y1="276.80" x2="55.40" y2="279.80" stroke="#fa8c05" stroke-width="0.9" />
<line x1="53.30" y1="276.80" x2="57.50" y2="276.80" stroke="#fa8c05" stroke-width="0.9" />
<line x1="53.30" y1="279.80" x2="57.50" y2="279.80" stroke="#fa8c05" stroke-width="0.9" />
<line x1="68.80" y1="278.30" x2="68.80" y2="281.30" stroke="#fa8c05" stroke-width="0.9" />
<line x1="66.70" y1="278.30" x2="70.90" y2="278.30" stroke="#fa8c05" stroke-width="0.9" />
<line x1="66.70" y1="281.30" x2="70.90" y2="281.30" stroke="#fa8c05" stroke-width="0.9" />
<line x1="81.90" y1="283.00" x2="81.90" y2="287.00" stroke="#fa8c05" stroke-width="0.9" />
<line x1="79.80" y1="283.00" x2="84.00" y2="283.00" stroke="#fa8c05" stroke-width="0.9" />
<line x1="79.80" y1="287.00" x2="84.00" y2="287.00" stroke="#fa8c05" stroke-width="0.9" />
<line x1="95.40" y1="282.00" x2="95.40" y2="286.00" stroke="#fa8c05" stroke-width="0.9" />
<line x1="93.30" y1="282.00" x2="97.50" y2="282.00" stroke="#fa8c05" stroke-width="0.9" />
<line x1="93.30" y1="286.00" x2="97.50" y2="286.00" stroke="#fa8c05" stroke-width="0.9" />
<line x1="108.50" y1="281.00" x2="108.50" y2="285.00" stroke="#fa8c05" stroke-width="0.9" />
<line x1="106.40" y1="281.00" x2="110.60" y2="281.00" stroke="#fa8c05" stroke-width="0.9" />
<line x1="106.40" y1="285.00" x2="110.60" y2="285.00" stroke="#fa8c05" stroke-width="0.9" />
<line x1="122.40" y1="278.80" x2="122.40" y2="282.80" stroke="#fa8c05" stroke-width="0.9" />
<line x1="120.30" y1="278.80" x2="124.50" y2="278.80" stroke="#fa8c05" stroke-width="0.9" />
<line x1="120.30" y1="282.80" x2="124.50" y2="282.80" stroke="#fa8c05" stroke-width="0.9" />
<line x1="136.00" y1="282.00" x2="136.00" y2="286.00" stroke="#fa8c05" stroke-width="0.9" />
<line x1="133.90" y1="282.00" x2="138.10" y2="282.00" stroke="#fa8c05" stroke-width="0.9" />
<line x1="133.90" y1="286.00" x2="138.10" y2="286.00" stroke="#fa8c05" stroke-width="0.9" />
<line x1="149.00" y1="283.60" x2="149.00" y2="287.60" stroke="#fa8c05" stroke-width="0.9" />
<line x1="146.90" y1="283.60" x2="151.10" y2="283.60" stroke="#fa8c05" stroke-width="0.9" />
<line x1="146.90" y1="287.60" x2="151.10" y2="287.60" stroke="#fa8c05" stroke-width="0.9" />
<line x1="162.50" y1="293.10" x2="162.50" y2="296.10" stroke="#fa8c05" stroke-width="0.9" />
<line x1="160.40" y1="293.10" x2="164.60" y2="293.10" stroke="#fa8c05" stroke-width="0.9" />
<line x1="160.40" y1="296.10" x2="164.60" y2="296.10" stroke="#fa8c05" stroke-width="0.9" />
<line x1="176.00" y1="293.10" x2="176.00" y2="296.10" stroke="#fa8c05" stroke-width="0.9" />
<line x1="173.90" y1="293.10" x2="178.10" y2="293.10" stroke="#fa8c05" stroke-width="0.9" />
<line x1="173.90" y1="296.10" x2="178.10" y2="296.10" stroke="#fa8c05" stroke-width="0.9" />
<line x1="189.40" y1="293.70" x2="189.40" y2="296.70" stroke="#fa8c05" stroke-width="0.9" />
<line x1="187.30" y1="293.70" x2="191.50" y2="293.70" stroke="#fa8c05" stroke-width="0.9" />
<line x1="187.30" y1="296.70" x2="191.50" y2="296.70" stroke="#fa8c05" stroke-width="0.9" />
</g>
<polyline points="41.90,275.80 55.40,278.30 68.80,279.80 81.90,285.00 95.40,284.00 108.50,283.00 122.40,280.80 136.00,284.00 149.00,285.60 162.50,294.60 176.00,294.60 189.40,295.20" stroke="#fa8c05" stroke-width="1.4" fill="none" stroke-linejoin="round" />
<rect x="40.05" y="273.95" width="3.70" height="3.70" fill="#fa8c05"/>
<rect x="53.55" y="276.45" width="3.70" height="3.70" fill="#fa8c05"/>
<rect x="66.95" y="277.95" width="3.70" height="3.70" fill="#fa8c05"/>
<rect x="80.05" y="283.15" width="3.70" height="3.70" fill="#fa8c05"/>
<rect x="93.55" y="282.15" width="3.70" height="3.70" fill="#fa8c05"/>
<rect x="106.65" y="281.15" width="3.70" height="3.70" fill="#fa8c05"/>
<rect x="120.55" y="278.95" width="3.70" height="3.70" fill="#fa8c05"/>
<rect x="134.15" y="282.15" width="3.70" height="3.70" fill="#fa8c05"/>
<rect x="147.15" y="283.75" width="3.70" height="3.70" fill="#fa8c05"/>
<rect x="160.65" y="292.75" width="3.70" height="3.70" fill="#fa8c05"/>
<rect x="174.15" y="292.75" width="3.70" height="3.70" fill="#fa8c05"/>
<rect x="187.55" y="293.35" width="3.70" height="3.70" fill="#fa8c05"/>
<g opacity="0.7">
<line x1="41.90" y1="257.50" x2="41.90" y2="265.50" stroke="#3db54a" stroke-width="0.9" />
<line x1="39.80" y1="257.50" x2="44.00" y2="257.50" stroke="#3db54a" stroke-width="0.9" />
<line x1="39.80" y1="265.50" x2="44.00" y2="265.50" stroke="#3db54a" stroke-width="0.9" />
<line x1="55.40" y1="262.80" x2="55.40" y2="268.80" stroke="#3db54a" stroke-width="0.9" />
<line x1="53.30" y1="262.80" x2="57.50" y2="262.80" stroke="#3db54a" stroke-width="0.9" />
<line x1="53.30" y1="268.80" x2="57.50" y2="268.80" stroke="#3db54a" stroke-width="0.9" />
<line x1="68.80" y1="264.70" x2="68.80" y2="270.70" stroke="#3db54a" stroke-width="0.9" />
<line x1="66.70" y1="264.70" x2="70.90" y2="264.70" stroke="#3db54a" stroke-width="0.9" />
<line x1="66.70" y1="270.70" x2="70.90" y2="270.70" stroke="#3db54a" stroke-width="0.9" />
<line x1="81.90" y1="286.40" x2="81.90" y2="294.40" stroke="#3db54a" stroke-width="0.9" />
<line x1="79.80" y1="286.40" x2="84.00" y2="286.40" stroke="#3db54a" stroke-width="0.9" />
<line x1="79.80" y1="294.40" x2="84.00" y2="294.40" stroke="#3db54a" stroke-width="0.9" />
<line x1="95.40" y1="286.40" x2="95.40" y2="294.40" stroke="#3db54a" stroke-width="0.9" />
<line x1="93.30" y1="286.40" x2="97.50" y2="286.40" stroke="#3db54a" stroke-width="0.9" />
<line x1="93.30" y1="294.40" x2="97.50" y2="294.40" stroke="#3db54a" stroke-width="0.9" />
<line x1="108.50" y1="286.40" x2="108.50" y2="294.40" stroke="#3db54a" stroke-width="0.9" />
<line x1="106.40" y1="286.40" x2="110.60" y2="286.40" stroke="#3db54a" stroke-width="0.9" />
<line x1="106.40" y1="294.40" x2="110.60" y2="294.40" stroke="#3db54a" stroke-width="0.9" />
<line x1="122.40" y1="258.80" x2="122.40" y2="270.80" stroke="#3db54a" stroke-width="0.9" />
<line x1="120.30" y1="258.80" x2="124.50" y2="258.80" stroke="#3db54a" stroke-width="0.9" />
<line x1="120.30" y1="270.80" x2="124.50" y2="270.80" stroke="#3db54a" stroke-width="0.9" />
<line x1="136.00" y1="266.20" x2="136.00" y2="276.20" stroke="#3db54a" stroke-width="0.9" />
<line x1="133.90" y1="266.20" x2="138.10" y2="266.20" stroke="#3db54a" stroke-width="0.9" />
<line x1="133.90" y1="276.20" x2="138.10" y2="276.20" stroke="#3db54a" stroke-width="0.9" />
<line x1="149.00" y1="270.00" x2="149.00" y2="278.00" stroke="#3db54a" stroke-width="0.9" />
<line x1="146.90" y1="270.00" x2="151.10" y2="270.00" stroke="#3db54a" stroke-width="0.9" />
<line x1="146.90" y1="278.00" x2="151.10" y2="278.00" stroke="#3db54a" stroke-width="0.9" />
<line x1="162.50" y1="295.00" x2="162.50" y2="300.00" stroke="#3db54a" stroke-width="0.9" />
<line x1="160.40" y1="295.00" x2="164.60" y2="295.00" stroke="#3db54a" stroke-width="0.9" />
<line x1="160.40" y1="300.00" x2="164.60" y2="300.00" stroke="#3db54a" stroke-width="0.9" />
<line x1="176.00" y1="295.00" x2="176.00" y2="300.00" stroke="#3db54a" stroke-width="0.9" />
<line x1="173.90" y1="295.00" x2="178.10" y2="295.00" stroke="#3db54a" stroke-width="0.9" />
<line x1="173.90" y1="300.00" x2="178.10" y2="300.00" stroke="#3db54a" stroke-width="0.9" />
<line x1="189.40" y1="294.90" x2="189.40" y2="300.90" stroke="#3db54a" stroke-width="0.9" />
<line x1="187.30" y1="294.90" x2="191.50" y2="294.90" stroke="#3db54a" stroke-width="0.9" />
<line x1="187.30" y1="300.90" x2="191.50" y2="300.90" stroke="#3db54a" stroke-width="0.9" />
</g>
<polyline points="41.90,261.50 55.40,265.80 68.80,267.70 81.90,290.40 95.40,290.40 108.50,290.40 122.40,264.80 136.00,271.20 149.00,274.00 162.50,297.50 176.00,297.50 189.40,297.90" stroke="#3db54a" stroke-width="1.4" fill="none" stroke-linejoin="round" />
<circle cx="41.90" cy="261.50" r="1.85" fill="#3db54a"/>
<circle cx="55.40" cy="265.80" r="1.85" fill="#3db54a"/>
<circle cx="68.80" cy="267.70" r="1.85" fill="#3db54a"/>
<circle cx="81.90" cy="290.40" r="1.85" fill="#3db54a"/>
<circle cx="95.40" cy="290.40" r="1.85" fill="#3db54a"/>
<circle cx="108.50" cy="290.40" r="1.85" fill="#3db54a"/>
<circle cx="122.40" cy="264.80" r="1.85" fill="#3db54a"/>
<circle cx="136.00" cy="271.20" r="1.85" fill="#3db54a"/>
<circle cx="149.00" cy="274.00" r="1.85" fill="#3db54a"/>
<circle cx="162.50" cy="297.50" r="1.85" fill="#3db54a"/>
<circle cx="176.00" cy="297.50" r="1.85" fill="#3db54a"/>
<circle cx="189.40" cy="297.90" r="1.85" fill="#3db54a"/>
<g opacity="0.7">
<line x1="41.90" y1="264.30" x2="41.90" y2="270.30" stroke="#13528b" stroke-width="0.9" />
<line x1="39.80" y1="264.30" x2="44.00" y2="264.30" stroke="#13528b" stroke-width="0.9" />
<line x1="39.80" y1="270.30" x2="44.00" y2="270.30" stroke="#13528b" stroke-width="0.9" />
<line x1="55.40" y1="268.80" x2="55.40" y2="272.80" stroke="#13528b" stroke-width="0.9" />
<line x1="53.30" y1="268.80" x2="57.50" y2="268.80" stroke="#13528b" stroke-width="0.9" />
<line x1="53.30" y1="272.80" x2="57.50" y2="272.80" stroke="#13528b" stroke-width="0.9" />
<line x1="68.80" y1="270.10" x2="68.80" y2="274.10" stroke="#13528b" stroke-width="0.9" />
<line x1="66.70" y1="270.10" x2="70.90" y2="270.10" stroke="#13528b" stroke-width="0.9" />
<line x1="66.70" y1="274.10" x2="70.90" y2="274.10" stroke="#13528b" stroke-width="0.9" />
<line x1="81.90" y1="279.50" x2="81.90" y2="283.50" stroke="#13528b" stroke-width="0.9" />
<line x1="79.80" y1="279.50" x2="84.00" y2="279.50" stroke="#13528b" stroke-width="0.9" />
<line x1="79.80" y1="283.50" x2="84.00" y2="283.50" stroke="#13528b" stroke-width="0.9" />
<line x1="95.40" y1="279.20" x2="95.40" y2="283.20" stroke="#13528b" stroke-width="0.9" />
<line x1="93.30" y1="279.20" x2="97.50" y2="279.20" stroke="#13528b" stroke-width="0.9" />
<line x1="93.30" y1="283.20" x2="97.50" y2="283.20" stroke="#13528b" stroke-width="0.9" />
<line x1="108.50" y1="278.80" x2="108.50" y2="282.80" stroke="#13528b" stroke-width="0.9" />
<line x1="106.40" y1="278.80" x2="110.60" y2="278.80" stroke="#13528b" stroke-width="0.9" />
<line x1="106.40" y1="282.80" x2="110.60" y2="282.80" stroke="#13528b" stroke-width="0.9" />
<line x1="122.40" y1="272.30" x2="122.40" y2="280.30" stroke="#13528b" stroke-width="0.9" />
<line x1="120.30" y1="272.30" x2="124.50" y2="272.30" stroke="#13528b" stroke-width="0.9" />
<line x1="120.30" y1="280.30" x2="124.50" y2="280.30" stroke="#13528b" stroke-width="0.9" />
<line x1="136.00" y1="277.80" x2="136.00" y2="281.80" stroke="#13528b" stroke-width="0.9" />
<line x1="133.90" y1="277.80" x2="138.10" y2="277.80" stroke="#13528b" stroke-width="0.9" />
<line x1="133.90" y1="281.80" x2="138.10" y2="281.80" stroke="#13528b" stroke-width="0.9" />
<line x1="149.00" y1="279.70" x2="149.00" y2="283.70" stroke="#13528b" stroke-width="0.9" />
<line x1="146.90" y1="279.70" x2="151.10" y2="279.70" stroke="#13528b" stroke-width="0.9" />
<line x1="146.90" y1="283.70" x2="151.10" y2="283.70" stroke="#13528b" stroke-width="0.9" />
<line x1="162.50" y1="290.20" x2="162.50" y2="293.20" stroke="#13528b" stroke-width="0.9" />
<line x1="160.40" y1="290.20" x2="164.60" y2="290.20" stroke="#13528b" stroke-width="0.9" />
<line x1="160.40" y1="293.20" x2="164.60" y2="293.20" stroke="#13528b" stroke-width="0.9" />
<line x1="176.00" y1="289.80" x2="176.00" y2="292.80" stroke="#13528b" stroke-width="0.9" />
<line x1="173.90" y1="289.80" x2="178.10" y2="289.80" stroke="#13528b" stroke-width="0.9" />
<line x1="173.90" y1="292.80" x2="178.10" y2="292.80" stroke="#13528b" stroke-width="0.9" />
<line x1="189.40" y1="290.20" x2="189.40" y2="293.20" stroke="#13528b" stroke-width="0.9" />
<line x1="187.30" y1="290.20" x2="191.50" y2="290.20" stroke="#13528b" stroke-width="0.9" />
<line x1="187.30" y1="293.20" x2="191.50" y2="293.20" stroke="#13528b" stroke-width="0.9" />
</g>
<polyline points="41.90,267.30 55.40,270.80 68.80,272.10 81.90,281.50 95.40,281.20 108.50,280.80 122.40,276.30 136.00,279.80 149.00,281.70 162.50,291.70 176.00,291.30 189.40,291.70" stroke="#13528b" stroke-width="1.4" fill="none" stroke-linejoin="round" />
<polygon points="39.68,269.15 44.12,269.15 41.90,265.08" fill="#13528b"/>
<polygon points="53.18,272.65 57.62,272.65 55.40,268.58" fill="#13528b"/>
<polygon points="66.58,273.95 71.02,273.95 68.80,269.88" fill="#13528b"/>
<polygon points="79.68,283.35 84.12,283.35 81.90,279.28" fill="#13528b"/>
<polygon points="93.18,283.05 97.62,283.05 95.40,278.98" fill="#13528b"/>
<polygon points="106.28,282.65 110.72,282.65 108.50,278.58" fill="#13528b"/>
<polygon points="120.18,278.15 124.62,278.15 122.40,274.08" fill="#13528b"/>
<polygon points="133.78,281.65 138.22,281.65 136.00,277.58" fill="#13528b"/>
<polygon points="146.78,283.55 151.22,283.55 149.00,279.48" fill="#13528b"/>
<polygon points="160.28,293.55 164.72,293.55 162.50,289.48" fill="#13528b"/>
<polygon points="173.78,293.15 178.22,293.15 176.00,289.08" fill="#13528b"/>
<polygon points="187.18,293.55 191.62,293.55 189.40,289.48" fill="#13528b"/>
<g opacity="0.7">
<line x1="41.90" y1="241.80" x2="41.90" y2="259.80" stroke="#5b2777" stroke-width="0.9" />
<line x1="39.80" y1="241.80" x2="44.00" y2="241.80" stroke="#5b2777" stroke-width="0.9" />
<line x1="39.80" y1="259.80" x2="44.00" y2="259.80" stroke="#5b2777" stroke-width="0.9" />
<line x1="55.40" y1="248.50" x2="55.40" y2="264.50" stroke="#5b2777" stroke-width="0.9" />
<line x1="53.30" y1="248.50" x2="57.50" y2="248.50" stroke="#5b2777" stroke-width="0.9" />
<line x1="53.30" y1="264.50" x2="57.50" y2="264.50" stroke="#5b2777" stroke-width="0.9" />
<line x1="68.80" y1="249.80" x2="68.80" y2="267.80" stroke="#5b2777" stroke-width="0.9" />
<line x1="66.70" y1="249.80" x2="70.90" y2="249.80" stroke="#5b2777" stroke-width="0.9" />
<line x1="66.70" y1="267.80" x2="70.90" y2="267.80" stroke="#5b2777" stroke-width="0.9" />
<line x1="81.90" y1="278.20" x2="81.90" y2="284.20" stroke="#5b2777" stroke-width="0.9" />
<line x1="79.80" y1="278.20" x2="84.00" y2="278.20" stroke="#5b2777" stroke-width="0.9" />
<line x1="79.80" y1="284.20" x2="84.00" y2="284.20" stroke="#5b2777" stroke-width="0.9" />
<line x1="95.40" y1="277.80" x2="95.40" y2="283.80" stroke="#5b2777" stroke-width="0.9" />
<line x1="93.30" y1="277.80" x2="97.50" y2="277.80" stroke="#5b2777" stroke-width="0.9" />
<line x1="93.30" y1="283.80" x2="97.50" y2="283.80" stroke="#5b2777" stroke-width="0.9" />
<line x1="108.50" y1="274.80" x2="108.50" y2="282.80" stroke="#5b2777" stroke-width="0.9" />
<line x1="106.40" y1="274.80" x2="110.60" y2="274.80" stroke="#5b2777" stroke-width="0.9" />
<line x1="106.40" y1="282.80" x2="110.60" y2="282.80" stroke="#5b2777" stroke-width="0.9" />
<line x1="122.40" y1="223.40" x2="122.40" y2="257.40" stroke="#5b2777" stroke-width="0.9" />
<line x1="120.30" y1="223.40" x2="124.50" y2="223.40" stroke="#5b2777" stroke-width="0.9" />
<line x1="120.30" y1="257.40" x2="124.50" y2="257.40" stroke="#5b2777" stroke-width="0.9" />
<line x1="136.00" y1="236.00" x2="136.00" y2="262.00" stroke="#5b2777" stroke-width="0.9" />
<line x1="133.90" y1="236.00" x2="138.10" y2="236.00" stroke="#5b2777" stroke-width="0.9" />
<line x1="133.90" y1="262.00" x2="138.10" y2="262.00" stroke="#5b2777" stroke-width="0.9" />
<line x1="149.00" y1="242.20" x2="149.00" y2="266.20" stroke="#5b2777" stroke-width="0.9" />
<line x1="146.90" y1="242.20" x2="151.10" y2="242.20" stroke="#5b2777" stroke-width="0.9" />
<line x1="146.90" y1="266.20" x2="151.10" y2="266.20" stroke="#5b2777" stroke-width="0.9" />
<line x1="162.50" y1="289.70" x2="162.50" y2="293.70" stroke="#5b2777" stroke-width="0.9" />
<line x1="160.40" y1="289.70" x2="164.60" y2="289.70" stroke="#5b2777" stroke-width="0.9" />
<line x1="160.40" y1="293.70" x2="164.60" y2="293.70" stroke="#5b2777" stroke-width="0.9" />
<line x1="176.00" y1="289.70" x2="176.00" y2="293.70" stroke="#5b2777" stroke-width="0.9" />
<line x1="173.90" y1="289.70" x2="178.10" y2="289.70" stroke="#5b2777" stroke-width="0.9" />
<line x1="173.90" y1="293.70" x2="178.10" y2="293.70" stroke="#5b2777" stroke-width="0.9" />
<line x1="189.40" y1="290.30" x2="189.40" y2="294.30" stroke="#5b2777" stroke-width="0.9" />
<line x1="187.30" y1="290.30" x2="191.50" y2="290.30" stroke="#5b2777" stroke-width="0.9" />
<line x1="187.30" y1="294.30" x2="191.50" y2="294.30" stroke="#5b2777" stroke-width="0.9" />
</g>
<polyline points="41.90,250.80 55.40,256.50 68.80,258.80 81.90,281.20 95.40,280.80 108.50,278.80 122.40,240.40 136.00,249.00 149.00,254.20 162.50,291.70 176.00,291.70 189.40,292.30" stroke="#5b2777" stroke-width="1.4" fill="none" stroke-linejoin="round" />
<circle cx="41.90" cy="250.80" r="1.85" fill="#5b2777"/>
<circle cx="55.40" cy="256.50" r="1.85" fill="#5b2777"/>
<circle cx="68.80" cy="258.80" r="1.85" fill="#5b2777"/>
<circle cx="81.90" cy="281.20" r="1.85" fill="#5b2777"/>
<circle cx="95.40" cy="280.80" r="1.85" fill="#5b2777"/>
<circle cx="108.50" cy="278.80" r="1.85" fill="#5b2777"/>
<circle cx="122.40" cy="240.40" r="1.85" fill="#5b2777"/>
<circle cx="136.00" cy="249.00" r="1.85" fill="#5b2777"/>
<circle cx="149.00" cy="254.20" r="1.85" fill="#5b2777"/>
<circle cx="162.50" cy="291.70" r="1.85" fill="#5b2777"/>
<circle cx="176.00" cy="291.70" r="1.85" fill="#5b2777"/>
<circle cx="189.40" cy="292.30" r="1.85" fill="#5b2777"/>
<g opacity="0.7">
<line x1="41.90" y1="225.60" x2="41.90" y2="243.60" stroke="#cc1137" stroke-width="0.9" />
<line x1="39.80" y1="225.60" x2="44.00" y2="225.60" stroke="#cc1137" stroke-width="0.9" />
<line x1="39.80" y1="243.60" x2="44.00" y2="243.60" stroke="#cc1137" stroke-width="0.9" />
<line x1="55.40" y1="232.80" x2="55.40" y2="248.80" stroke="#cc1137" stroke-width="0.9" />
<line x1="53.30" y1="232.80" x2="57.50" y2="232.80" stroke="#cc1137" stroke-width="0.9" />
<line x1="53.30" y1="248.80" x2="57.50" y2="248.80" stroke="#cc1137" stroke-width="0.9" />
<line x1="68.80" y1="237.30" x2="68.80" y2="249.30" stroke="#cc1137" stroke-width="0.9" />
<line x1="66.70" y1="237.30" x2="70.90" y2="237.30" stroke="#cc1137" stroke-width="0.9" />
<line x1="66.70" y1="249.30" x2="70.90" y2="249.30" stroke="#cc1137" stroke-width="0.9" />
<line x1="81.90" y1="263.70" x2="81.90" y2="269.70" stroke="#cc1137" stroke-width="0.9" />
<line x1="79.80" y1="263.70" x2="84.00" y2="263.70" stroke="#cc1137" stroke-width="0.9" />
<line x1="79.80" y1="269.70" x2="84.00" y2="269.70" stroke="#cc1137" stroke-width="0.9" />
<line x1="95.40" y1="261.30" x2="95.40" y2="266.30" stroke="#cc1137" stroke-width="0.9" />
<line x1="93.30" y1="261.30" x2="97.50" y2="261.30" stroke="#cc1137" stroke-width="0.9" />
<line x1="93.30" y1="266.30" x2="97.50" y2="266.30" stroke="#cc1137" stroke-width="0.9" />
<line x1="108.50" y1="258.50" x2="108.50" y2="264.50" stroke="#cc1137" stroke-width="0.9" />
<line x1="106.40" y1="258.50" x2="110.60" y2="258.50" stroke="#cc1137" stroke-width="0.9" />
<line x1="106.40" y1="264.50" x2="110.60" y2="264.50" stroke="#cc1137" stroke-width="0.9" />
<line x1="122.40" y1="217.10" x2="122.40" y2="229.10" stroke="#cc1137" stroke-width="0.9" />
<line x1="120.30" y1="217.10" x2="124.50" y2="217.10" stroke="#cc1137" stroke-width="0.9" />
<line x1="120.30" y1="229.10" x2="124.50" y2="229.10" stroke="#cc1137" stroke-width="0.9" />
<line x1="136.00" y1="228.40" x2="136.00" y2="240.40" stroke="#cc1137" stroke-width="0.9" />
<line x1="133.90" y1="228.40" x2="138.10" y2="228.40" stroke="#cc1137" stroke-width="0.9" />
<line x1="133.90" y1="240.40" x2="138.10" y2="240.40" stroke="#cc1137" stroke-width="0.9" />
<line x1="149.00" y1="234.80" x2="149.00" y2="246.80" stroke="#cc1137" stroke-width="0.9" />
<line x1="146.90" y1="234.80" x2="151.10" y2="234.80" stroke="#cc1137" stroke-width="0.9" />
<line x1="146.90" y1="246.80" x2="151.10" y2="246.80" stroke="#cc1137" stroke-width="0.9" />
<line x1="162.50" y1="274.30" x2="162.50" y2="282.30" stroke="#cc1137" stroke-width="0.9" />
<line x1="160.40" y1="274.30" x2="164.60" y2="274.30" stroke="#cc1137" stroke-width="0.9" />
<line x1="160.40" y1="282.30" x2="164.60" y2="282.30" stroke="#cc1137" stroke-width="0.9" />
<line x1="176.00" y1="274.80" x2="176.00" y2="279.80" stroke="#cc1137" stroke-width="0.9" />
<line x1="173.90" y1="274.80" x2="178.10" y2="274.80" stroke="#cc1137" stroke-width="0.9" />
<line x1="173.90" y1="279.80" x2="178.10" y2="279.80" stroke="#cc1137" stroke-width="0.9" />
<line x1="189.40" y1="273.80" x2="189.40" y2="280.80" stroke="#cc1137" stroke-width="0.9" />
<line x1="187.30" y1="273.80" x2="191.50" y2="273.80" stroke="#cc1137" stroke-width="0.9" />
<line x1="187.30" y1="280.80" x2="191.50" y2="280.80" stroke="#cc1137" stroke-width="0.9" />
</g>
<polyline points="41.90,234.60 55.40,240.80 68.80,243.30 81.90,266.70 95.40,263.80 108.50,261.50 122.40,223.10 136.00,234.40 149.00,240.80 162.50,278.30 176.00,277.30 189.40,277.30" stroke="#cc1137" stroke-width="1.4" fill="none" stroke-linejoin="round" />
<polygon points="41.90,232.19 43.94,234.60 41.90,237.00 39.86,234.60" fill="#cc1137"/>
<polygon points="55.40,238.40 57.44,240.80 55.40,243.21 53.36,240.80" fill="#cc1137"/>
<polygon points="68.80,240.90 70.83,243.30 68.80,245.71 66.77,243.30" fill="#cc1137"/>
<polygon points="81.90,264.30 83.94,266.70 81.90,269.10 79.87,266.70" fill="#cc1137"/>
<polygon points="95.40,261.40 97.44,263.80 95.40,266.20 93.37,263.80" fill="#cc1137"/>
<polygon points="108.50,259.10 110.53,261.50 108.50,263.90 106.47,261.50" fill="#cc1137"/>
<polygon points="122.40,220.69 124.44,223.10 122.40,225.50 120.37,223.10" fill="#cc1137"/>
<polygon points="136.00,232.00 138.03,234.40 136.00,236.81 133.97,234.40" fill="#cc1137"/>
<polygon points="149.00,238.40 151.03,240.80 149.00,243.21 146.97,240.80" fill="#cc1137"/>
<polygon points="162.50,275.90 164.53,278.30 162.50,280.70 160.47,278.30" fill="#cc1137"/>
<polygon points="176.00,274.90 178.03,277.30 176.00,279.70 173.97,277.30" fill="#cc1137"/>
<polygon points="189.40,274.90 191.44,277.30 189.40,279.70 187.37,277.30" fill="#cc1137"/>
<text x="267.30" y="185.80" font-size="10.5" text-anchor="start" fill="#000" stroke="#000" stroke-width="0.14" font-weight="bold" font-style="normal" >F</text>
<rect x="308.20" y="192.00" width="4.60" height="4.60" fill="#3db54a" />
<text x="315.30" y="196.90" font-size="7.3" text-anchor="start" fill="#1a1a1a" stroke="#1a1a1a" stroke-width="0.14" font-weight="normal" font-style="normal" >CPT2</text>
<rect x="349.50" y="192.00" width="4.60" height="4.60" fill="#fa8c05" />
<text x="356.60" y="196.90" font-size="7.3" text-anchor="start" fill="#1a1a1a" stroke="#1a1a1a" stroke-width="0.14" font-weight="normal" font-style="normal" >CPT2+PCT</text>
<rect x="396.90" y="192.00" width="4.60" height="4.60" fill="#13528b" />
<text x="404.00" y="196.90" font-size="7.3" text-anchor="start" fill="#1a1a1a" stroke="#1a1a1a" stroke-width="0.14" font-weight="normal" font-style="normal" >KQ</text>
<rect x="308.20" y="202.70" width="4.60" height="4.60" fill="#0f6a4c" />
<text x="315.30" y="207.60" font-size="7.3" text-anchor="start" fill="#1a1a1a" stroke="#1a1a1a" stroke-width="0.14" font-weight="normal" font-style="normal" >KQ+PCT</text>
<rect x="349.50" y="202.70" width="4.60" height="4.60" fill="#cc1137" />
<text x="356.60" y="207.60" font-size="7.3" text-anchor="start" fill="#1a1a1a" stroke="#1a1a1a" stroke-width="0.14" font-weight="normal" font-style="normal" >KR</text>
<rect x="396.90" y="202.70" width="4.60" height="4.60" fill="#5b2777" />
<text x="404.00" y="207.60" font-size="7.3" text-anchor="start" fill="#1a1a1a" stroke="#1a1a1a" stroke-width="0.14" font-weight="normal" font-style="normal" >KR+PCT</text>
<line x1="302.70" y1="208.00" x2="302.70" y2="309.40" stroke="#111" stroke-width="1.0" />
<line x1="299.90" y1="210.90" x2="302.70" y2="210.90" stroke="#111" stroke-width="0.9" />
<text x="297.10" y="213.50" font-size="7.5" text-anchor="end" fill="#1a1a1a" stroke="#1a1a1a" stroke-width="0.14" font-weight="normal" font-style="normal" >100</text>
<line x1="299.90" y1="230.60" x2="302.70" y2="230.60" stroke="#111" stroke-width="0.9" />
<text x="297.10" y="233.20" font-size="7.5" text-anchor="end" fill="#1a1a1a" stroke="#1a1a1a" stroke-width="0.14" font-weight="normal" font-style="normal" >80</text>
<line x1="299.90" y1="250.30" x2="302.70" y2="250.30" stroke="#111" stroke-width="0.9" />
<text x="297.10" y="252.90" font-size="7.5" text-anchor="end" fill="#1a1a1a" stroke="#1a1a1a" stroke-width="0.14" font-weight="normal" font-style="normal" >60</text>
<line x1="299.90" y1="270.00" x2="302.70" y2="270.00" stroke="#111" stroke-width="0.9" />
<text x="297.10" y="272.60" font-size="7.5" text-anchor="end" fill="#1a1a1a" stroke="#1a1a1a" stroke-width="0.14" font-weight="normal" font-style="normal" >40</text>
<line x1="299.90" y1="289.70" x2="302.70" y2="289.70" stroke="#111" stroke-width="0.9" />
<text x="297.10" y="292.30" font-size="7.5" text-anchor="end" fill="#1a1a1a" stroke="#1a1a1a" stroke-width="0.14" font-weight="normal" font-style="normal" >20</text>
<line x1="299.90" y1="309.40" x2="302.70" y2="309.40" stroke="#111" stroke-width="0.9" />
<text x="297.10" y="312.00" font-size="7.5" text-anchor="end" fill="#1a1a1a" stroke="#1a1a1a" stroke-width="0.14" font-weight="normal" font-style="normal" >0</text>
<line x1="302.70" y1="309.40" x2="488.60" y2="309.40" stroke="#111" stroke-width="0.9" />
<rect x="308.00" y="272.00" width="8.00" height="37.40" fill="#3db54a" />
<line x1="312.00" y1="267.00" x2="312.00" y2="272.50" stroke="#1a1a1a" stroke-width="0.9" />
<line x1="309.70" y1="267.00" x2="314.30" y2="267.00" stroke="#1a1a1a" stroke-width="0.9" />
<rect x="317.60" y="280.75" width="8.00" height="28.65" fill="#fa8c05" />
<line x1="321.60" y1="278.50" x2="321.60" y2="281.25" stroke="#1a1a1a" stroke-width="0.9" />
<line x1="319.30" y1="278.50" x2="323.90" y2="278.50" stroke="#1a1a1a" stroke-width="0.9" />
<rect x="327.10" y="275.50" width="8.00" height="33.90" fill="#13528b" />
<line x1="331.10" y1="272.00" x2="331.10" y2="276.00" stroke="#1a1a1a" stroke-width="0.9" />
<line x1="328.80" y1="272.00" x2="333.40" y2="272.00" stroke="#1a1a1a" stroke-width="0.9" />
<rect x="336.60" y="285.00" width="8.00" height="24.40" fill="#0f6a4c" />
<line x1="340.60" y1="282.80" x2="340.60" y2="285.50" stroke="#1a1a1a" stroke-width="0.9" />
<line x1="338.30" y1="282.80" x2="342.90" y2="282.80" stroke="#1a1a1a" stroke-width="0.9" />
<rect x="346.10" y="238.00" width="8.00" height="71.40" fill="#cc1137" />
<line x1="350.10" y1="233.50" x2="350.10" y2="238.50" stroke="#1a1a1a" stroke-width="0.9" />
<line x1="347.80" y1="233.50" x2="352.40" y2="233.50" stroke="#1a1a1a" stroke-width="0.9" />
<rect x="355.50" y="245.75" width="8.00" height="63.65" fill="#5b2777" />
<line x1="359.50" y1="237.50" x2="359.50" y2="246.25" stroke="#1a1a1a" stroke-width="0.9" />
<line x1="357.20" y1="237.50" x2="361.80" y2="237.50" stroke="#1a1a1a" stroke-width="0.9" />
<rect x="369.20" y="294.80" width="8.10" height="14.60" fill="#3db54a" />
<line x1="373.25" y1="293.00" x2="373.25" y2="295.30" stroke="#1a1a1a" stroke-width="0.9" />
<line x1="370.95" y1="293.00" x2="375.55" y2="293.00" stroke="#1a1a1a" stroke-width="0.9" />
<rect x="378.90" y="296.30" width="8.10" height="13.10" fill="#fa8c05" />
<line x1="382.95" y1="295.20" x2="382.95" y2="296.80" stroke="#1a1a1a" stroke-width="0.9" />
<line x1="380.65" y1="295.20" x2="385.25" y2="295.20" stroke="#1a1a1a" stroke-width="0.9" />
<rect x="388.60" y="297.50" width="8.10" height="11.90" fill="#13528b" />
<line x1="392.65" y1="296.40" x2="392.65" y2="298.00" stroke="#1a1a1a" stroke-width="0.9" />
<line x1="390.35" y1="296.40" x2="394.95" y2="296.40" stroke="#1a1a1a" stroke-width="0.9" />
<rect x="398.30" y="298.50" width="8.10" height="10.90" fill="#0f6a4c" />
<line x1="402.35" y1="297.20" x2="402.35" y2="299.00" stroke="#1a1a1a" stroke-width="0.9" />
<line x1="400.05" y1="297.20" x2="404.65" y2="297.20" stroke="#1a1a1a" stroke-width="0.9" />
<rect x="408.00" y="271.40" width="8.10" height="38.00" fill="#cc1137" />
<line x1="412.05" y1="267.70" x2="412.05" y2="271.90" stroke="#1a1a1a" stroke-width="0.9" />
<line x1="409.75" y1="267.70" x2="414.35" y2="267.70" stroke="#1a1a1a" stroke-width="0.9" />
<rect x="417.70" y="277.00" width="8.10" height="32.40" fill="#5b2777" />
<line x1="421.75" y1="271.70" x2="421.75" y2="277.50" stroke="#1a1a1a" stroke-width="0.9" />
<line x1="419.45" y1="271.70" x2="424.05" y2="271.70" stroke="#1a1a1a" stroke-width="0.9" />
<rect x="431.40" y="286.20" width="8.00" height="23.20" fill="#3db54a" />
<line x1="435.40" y1="280.00" x2="435.40" y2="286.70" stroke="#1a1a1a" stroke-width="0.9" />
<line x1="433.10" y1="280.00" x2="437.70" y2="280.00" stroke="#1a1a1a" stroke-width="0.9" />
<rect x="441.00" y="289.20" width="8.00" height="20.20" fill="#fa8c05" />
<line x1="445.00" y1="287.00" x2="445.00" y2="289.70" stroke="#1a1a1a" stroke-width="0.9" />
<line x1="442.70" y1="287.00" x2="447.30" y2="287.00" stroke="#1a1a1a" stroke-width="0.9" />
<rect x="450.50" y="295.70" width="8.00" height="13.70" fill="#13528b" />
<line x1="454.50" y1="293.00" x2="454.50" y2="296.20" stroke="#1a1a1a" stroke-width="0.9" />
<line x1="452.20" y1="293.00" x2="456.80" y2="293.00" stroke="#1a1a1a" stroke-width="0.9" />
<rect x="460.00" y="297.80" width="8.00" height="11.60" fill="#0f6a4c" />
<line x1="464.00" y1="294.80" x2="464.00" y2="298.30" stroke="#1a1a1a" stroke-width="0.9" />
<line x1="461.70" y1="294.80" x2="466.30" y2="294.80" stroke="#1a1a1a" stroke-width="0.9" />
<rect x="470.20" y="221.50" width="8.00" height="87.90" fill="#cc1137" />
<line x1="474.20" y1="217.80" x2="474.20" y2="222.00" stroke="#1a1a1a" stroke-width="0.9" />
<line x1="471.90" y1="217.80" x2="476.50" y2="217.80" stroke="#1a1a1a" stroke-width="0.9" />
<rect x="479.80" y="226.80" width="8.00" height="82.60" fill="#5b2777" />
<line x1="483.80" y1="216.30" x2="483.80" y2="227.30" stroke="#1a1a1a" stroke-width="0.9" />
<line x1="481.50" y1="216.30" x2="486.10" y2="216.30" stroke="#1a1a1a" stroke-width="0.9" />
<line x1="336.00" y1="309.40" x2="336.00" y2="311.40" stroke="#111" stroke-width="0.8" />
<line x1="397.50" y1="309.40" x2="397.50" y2="311.40" stroke="#111" stroke-width="0.8" />
<line x1="459.50" y1="309.40" x2="459.50" y2="311.40" stroke="#111" stroke-width="0.8" />
<polyline points="314.40,224.80 314.40,222.10 350.00,222.10 350.00,224.80" stroke="#222" stroke-width="0.95" fill="none" stroke-linejoin="round" />
<rect x="328.52" y="217.57" width="1.85" height="1.67" fill="#1a1a1a" rx="0.3"/>
<rect x="331.27" y="217.57" width="1.85" height="1.67" fill="#1a1a1a" rx="0.3"/>
<rect x="334.02" y="217.57" width="1.85" height="1.67" fill="#1a1a1a" rx="0.3"/>
<polyline points="323.50,232.75 323.50,229.75 359.40,229.75 359.40,232.75" stroke="#222" stroke-width="0.95" fill="none" stroke-linejoin="round" />
<rect x="336.40" y="225.67" width="1.85" height="1.67" fill="#1a1a1a" rx="0.3"/>
<rect x="339.15" y="225.67" width="1.85" height="1.67" fill="#1a1a1a" rx="0.3"/>
<rect x="341.90" y="225.67" width="1.85" height="1.67" fill="#1a1a1a" rx="0.3"/>
<rect x="344.65" y="225.67" width="1.85" height="1.67" fill="#1a1a1a" rx="0.3"/>
<polyline points="376.00,250.20 376.00,246.90 411.50,246.90 411.50,250.20" stroke="#222" stroke-width="0.95" fill="none" stroke-linejoin="round" />
<rect x="388.70" y="242.77" width="1.85" height="1.67" fill="#1a1a1a" rx="0.3"/>
<rect x="391.45" y="242.77" width="1.85" height="1.67" fill="#1a1a1a" rx="0.3"/>
<rect x="394.20" y="242.77" width="1.85" height="1.67" fill="#1a1a1a" rx="0.3"/>
<rect x="396.95" y="242.77" width="1.85" height="1.67" fill="#1a1a1a" rx="0.3"/>
<polyline points="386.20,259.80 386.20,256.30 421.60,256.30 421.60,259.80" stroke="#222" stroke-width="0.95" fill="none" stroke-linejoin="round" />
<rect x="400.22" y="252.57" width="1.85" height="1.67" fill="#1a1a1a" rx="0.3"/>
<rect x="402.97" y="252.57" width="1.85" height="1.67" fill="#1a1a1a" rx="0.3"/>
<rect x="405.72" y="252.57" width="1.85" height="1.67" fill="#1a1a1a" rx="0.3"/>
<polyline points="437.25,207.75 437.25,205.00 473.50,205.00 473.50,207.75" stroke="#222" stroke-width="0.95" fill="none" stroke-linejoin="round" />
<rect x="450.32" y="200.57" width="1.85" height="1.67" fill="#1a1a1a" rx="0.3"/>
<rect x="453.07" y="200.57" width="1.85" height="1.67" fill="#1a1a1a" rx="0.3"/>
<rect x="455.82" y="200.57" width="1.85" height="1.67" fill="#1a1a1a" rx="0.3"/>
<rect x="458.57" y="200.57" width="1.85" height="1.67" fill="#1a1a1a" rx="0.3"/>
<polyline points="448.10,215.60 448.10,212.90 483.75,212.90 483.75,215.60" stroke="#222" stroke-width="0.95" fill="none" stroke-linejoin="round" />
<rect x="460.88" y="208.67" width="1.85" height="1.67" fill="#1a1a1a" rx="0.3"/>
<rect x="463.62" y="208.67" width="1.85" height="1.67" fill="#1a1a1a" rx="0.3"/>
<rect x="466.38" y="208.67" width="1.85" height="1.67" fill="#1a1a1a" rx="0.3"/>
<rect x="469.12" y="208.67" width="1.85" height="1.67" fill="#1a1a1a" rx="0.3"/>
<text x="334.60" y="322.00" font-size="7.6" text-anchor="middle" fill="#1a1a1a" stroke="#1a1a1a" stroke-width="0.14" font-weight="normal" font-style="normal" >Basal</text>
<text x="396.00" y="322.00" font-size="7.4" text-anchor="middle" fill="#1a1a1a" stroke="#1a1a1a" stroke-width="0.14" font-weight="normal" font-style="normal" >ATP-linked</text>
<text x="457.00" y="322.00" font-size="7.4" text-anchor="middle" fill="#1a1a1a" stroke="#1a1a1a" stroke-width="0.14" font-weight="normal" font-style="normal" >Maximal</text>
<text transform="translate(277.90,258.40) rotate(-90) scale(0.696,1)" font-size="8.7" text-anchor="middle" fill="#1a1a1a" font-weight="bold" font-style="normal">OCR (pmol/min)</text>
<text x="6.80" y="348.50" font-size="10.5" text-anchor="start" fill="#000" stroke="#000" stroke-width="0.14" font-weight="bold" font-style="normal" >G</text>
<text x="72.50" y="348.90" font-size="7.4" text-anchor="middle" fill="#111" stroke="#111" stroke-width="0.14" font-weight="normal" font-style="normal" >CPT2</text>
<text x="164.50" y="348.90" font-size="7.4" text-anchor="middle" fill="#111" stroke="#111" stroke-width="0.14" font-weight="normal" font-style="normal" >KQ</text>
<text x="257.60" y="348.90" font-size="7.4" text-anchor="middle" fill="#111" stroke="#111" stroke-width="0.14" font-weight="normal" font-style="normal" >KR</text>
<text x="25.00" y="399.60" font-size="7.4" text-anchor="end" fill="#111" stroke="#111" stroke-width="0.14" font-weight="normal" font-style="normal" >Con</text>
<text x="24.80" y="492.70" font-size="7.4" text-anchor="end" fill="#111" stroke="#111" stroke-width="0.14" font-weight="normal" font-style="normal" >PCT</text>
<defs><filter id="nz" x="0" y="0" width="100%" height="100%"><feTurbulence type="fractalNoise" baseFrequency="0.75" numOctaves="2" seed="3" result="t"/><feColorMatrix type="matrix" values="0 0 0 0 0  0 0 0 0 0  0 0 0 0 0  0 0 0 -1.6 1.05" /></filter><filter id="nz2" x="0" y="0" width="100%" height="100%"><feTurbulence type="fractalNoise" baseFrequency="0.09" numOctaves="3" seed="7" result="t"/><feColorMatrix type="matrix" values="0 0 0 0 0  0 0 0 0 0  0 0 0 0 0  0 0 0 -1.2 0.75" /></filter><pattern id="cr" width="2.6" height="2.6" patternUnits="userSpaceOnUse" patternTransform="rotate(70)"><rect width="2.6" height="2.6" fill="#a8a8a8"/><rect width="1.0" height="2.6" fill="#909090"/></pattern><pattern id="cr2" width="3" height="3" patternUnits="userSpaceOnUse" patternTransform="rotate(15)"><rect width="3" height="3" fill="#b2b2b2"/><rect width="1.0" height="3" fill="#949494"/></pattern><filter id="emb"><feGaussianBlur stdDeviation="0.45"/></filter></defs>
<clipPath id="em00"><rect x="27" y="351.2" width="90.6" height="90.0"/></clipPath>
<g clip-path="url(#em00)"><g filter="url(#emb)">
<rect x="27.00" y="351.20" width="90.60" height="90.00" fill="#bcbcbc" />
<rect x="27" y="351.2" width="90.6" height="90.0" filter="url(#nz2)" opacity="0.25"/>
<ellipse cx="36" cy="432" rx="14" ry="9" fill="#c8c8c8" opacity="0.85"/>
<ellipse cx="102" cy="382" rx="12" ry="24" fill="#b8b8b8" opacity="0.5"/>
<ellipse cx="51.5" cy="368.1" rx="14" ry="11" transform="rotate(-10,51.5,368.1)" fill="url(#cr)" stroke="#6e6e6e" stroke-width="1.0"/>
<ellipse cx="65.2" cy="408.3" rx="15" ry="13" transform="rotate(5,65.2,408.3)" fill="url(#cr)" stroke="#6e6e6e" stroke-width="1.0"/>
<ellipse cx="95.4" cy="415.6" rx="11" ry="14" transform="rotate(20,95.4,415.6)" fill="url(#cr)" stroke="#6e6e6e" stroke-width="1.0"/>
<path d="M32,392 Q45,382 60,388" stroke="#626262" stroke-width="1.1" fill="none"/>
<path d="M85,352 Q90,380 117,418" stroke="#626262" stroke-width="1.1" fill="none"/>
<path d="M34,398 Q40,420 52,436" stroke="#626262" stroke-width="1.1" fill="none"/>
<path d="M27,380 Q40,378 50,383" stroke="#626262" stroke-width="1.1" fill="none"/>
<path d="M80,352 Q84,372 98,395" stroke="#626262" stroke-width="1.1" fill="none"/>
<rect x="27" y="351.2" width="90.6" height="90.0" filter="url(#nz)" opacity="0.36"/>
</g>
<text x="33.6" y="436.0" font-size="7.4" fill="#fff" stroke="#fff" stroke-width="0.15">1 μm</text>
<line x1="29.80" y1="437.90" x2="53.00" y2="437.90" stroke="#fff" stroke-width="1.5" />
</g>
<rect x="27" y="351.2" width="90.6" height="90.0" fill="none" stroke="#1a1a1a" stroke-width="1.2"/>
<clipPath id="em01"><rect x="120.2" y="351.2" width="89.2" height="90.0"/></clipPath>
<g clip-path="url(#em01)"><g filter="url(#emb)">
<rect x="120.20" y="351.20" width="89.20" height="90.00" fill="#bcbcbc" />
<rect x="120.2" y="351.2" width="89.2" height="90.0" filter="url(#nz2)" opacity="0.25"/>
<ellipse cx="123.5" cy="374" rx="4" ry="6" fill="#dadada" opacity="0.9"/>
<ellipse cx="165" cy="362" rx="45" ry="3.5" fill="#858585" opacity="0.45"/>
<ellipse cx="154.6" cy="390" rx="9" ry="7" transform="rotate(0,154.6,390)" fill="url(#cr)" stroke="#6e6e6e" stroke-width="1.0"/>
<ellipse cx="187.5" cy="393.7" rx="14" ry="9" transform="rotate(10,187.5,393.7)" fill="url(#cr)" stroke="#6e6e6e" stroke-width="1.0"/>
<ellipse cx="183.8" cy="406.5" rx="13" ry="8" transform="rotate(10,183.8,406.5)" fill="url(#cr)" stroke="#6e6e6e" stroke-width="1.0"/>
<ellipse cx="130.8" cy="406.5" rx="9" ry="10" transform="rotate(0,130.8,406.5)" fill="url(#cr)" stroke="#6e6e6e" stroke-width="1.0"/>
<ellipse cx="170.1" cy="414.7" rx="6" ry="8" transform="rotate(0,170.1,414.7)" fill="url(#cr)" stroke="#6e6e6e" stroke-width="1.0"/>
<ellipse cx="156.4" cy="406.5" rx="6" ry="6" transform="rotate(0,156.4,406.5)" fill="url(#cr)" stroke="#6e6e6e" stroke-width="1.0"/>
<path d="M121,360 Q160,372 209,360" stroke="#626262" stroke-width="1.1" fill="none"/>
<path d="M121,364 Q160,376 209,364" stroke="#626262" stroke-width="1.1" fill="none"/>
<path d="M121,432 Q160,420 209,425" stroke="#626262" stroke-width="1.1" fill="none"/>
<path d="M121,380 Q135,395 128,420" stroke="#626262" stroke-width="1.1" fill="none"/>
<path d="M150,422 Q170,432 200,420" stroke="#626262" stroke-width="1.1" fill="none"/>
<ellipse cx="140.9" cy="373.6" rx="6.2" ry="6.4" fill="#3a3a3a"/>
<ellipse cx="141.8" cy="374.6" rx="3.2" ry="3.4" fill="#6a6a6a"/>
<ellipse cx="139.5" cy="371.5" rx="1.8" ry="1.6" fill="#1a1a1a"/>
<ellipse cx="131.2" cy="395.2" rx="1.8" ry="1.6" fill="#111"/>
<rect x="120.2" y="351.2" width="89.2" height="90.0" filter="url(#nz)" opacity="0.36"/>
</g>
<text x="126.8" y="436.0" font-size="7.4" fill="#fff" stroke="#fff" stroke-width="0.15">1 μm</text>
<line x1="123.00" y1="437.90" x2="146.20" y2="437.90" stroke="#fff" stroke-width="1.5" />
</g>
<rect x="120.2" y="351.2" width="89.2" height="90.0" fill="none" stroke="#1a1a1a" stroke-width="1.2"/>
<clipPath id="em02"><rect x="212.6" y="351.2" width="90.6" height="90.0"/></clipPath>
<g clip-path="url(#em02)"><g filter="url(#emb)">
<rect x="212.60" y="351.20" width="90.60" height="90.00" fill="#bcbcbc" />
<rect x="212.6" y="351.2" width="90.6" height="90.0" filter="url(#nz2)" opacity="0.25"/>
<ellipse cx="260" cy="399" rx="3" ry="4" fill="#d8d8d8" opacity="1"/>
<ellipse cx="287" cy="383" rx="3" ry="3" fill="#d4d4d4" opacity="1"/>
<ellipse cx="255" cy="432" rx="5" ry="10" fill="#959595" opacity="0.6"/>
<ellipse cx="223.7" cy="373.6" rx="8" ry="14" transform="rotate(15,223.7,373.6)" fill="url(#cr)" stroke="#6e6e6e" stroke-width="1.0"/>
<ellipse cx="242.9" cy="393.7" rx="8" ry="14" transform="rotate(-5,242.9,393.7)" fill="url(#cr)" stroke="#6e6e6e" stroke-width="1.0"/>
<ellipse cx="270.3" cy="404.7" rx="14" ry="9" transform="rotate(-10,270.3,404.7)" fill="url(#cr)" stroke="#6e6e6e" stroke-width="1.0"/>
<ellipse cx="283.1" cy="378.2" rx="11" ry="10" transform="rotate(0,283.1,378.2)" fill="url(#cr)" stroke="#6e6e6e" stroke-width="1.0"/>
<ellipse cx="294.1" cy="406.5" rx="8" ry="9" transform="rotate(0,294.1,406.5)" fill="url(#cr)" stroke="#6e6e6e" stroke-width="1.0"/>
<ellipse cx="222.8" cy="410.2" rx="9" ry="14" transform="rotate(0,222.8,410.2)" fill="url(#cr)" stroke="#6e6e6e" stroke-width="1.0"/>
<ellipse cx="222.8" cy="390" rx="6" ry="5" transform="rotate(0,222.8,390)" fill="url(#cr)" stroke="#6e6e6e" stroke-width="1.0"/>
<path d="M230,395 Q240,360 250,352" stroke="#626262" stroke-width="1.1" fill="none"/>
<path d="M213,430 Q240,425 250,441" stroke="#626262" stroke-width="1.1" fill="none"/>
<path d="M262,352 Q275,365 300,360" stroke="#626262" stroke-width="1.1" fill="none"/>
<ellipse cx="249.3" cy="381.8" rx="2.2" ry="1.4" fill="#111"/>
<ellipse cx="258.4" cy="421.1" rx="4" ry="5" fill="#333"/>
<rect x="212.6" y="351.2" width="90.6" height="90.0" filter="url(#nz)" opacity="0.36"/>
</g>
<text x="219.2" y="436.0" font-size="7.4" fill="#fff" stroke="#fff" stroke-width="0.15">1 μm</text>
<line x1="215.40" y1="437.90" x2="238.60" y2="437.90" stroke="#fff" stroke-width="1.5" />
</g>
<rect x="212.6" y="351.2" width="90.6" height="90.0" fill="none" stroke="#1a1a1a" stroke-width="1.2"/>
<clipPath id="em10"><rect x="27" y="444.3" width="90.6" height="90.19999999999999"/></clipPath>
<g clip-path="url(#em10)"><g filter="url(#emb)">
<rect x="27.00" y="444.30" width="90.60" height="90.20" fill="#bcbcbc" />
<rect x="27" y="444.3" width="90.6" height="90.19999999999999" filter="url(#nz2)" opacity="0.25"/>
<ellipse cx="90" cy="528" rx="14" ry="8" fill="#7a7a7a" opacity="0.5"/>
<ellipse cx="43.3" cy="469.3" rx="9" ry="10" transform="rotate(0,43.3,469.3)" fill="url(#cr2)" stroke="#6e6e6e" stroke-width="1.0"/>
<ellipse cx="44.65" cy="468.3" rx="4.5" ry="4.5" transform="rotate(25,43.3,469.3)" fill="#c6c6c6" opacity="0.8"/>
<ellipse cx="73.4" cy="472.1" rx="10" ry="7" transform="rotate(-10,73.4,472.1)" fill="url(#cr)" stroke="#6e6e6e" stroke-width="1.0"/>
<ellipse cx="74.9" cy="471.40000000000003" rx="5.0" ry="3.15" transform="rotate(15,73.4,472.1)" fill="#c6c6c6" opacity="0.8"/>
<ellipse cx="88.1" cy="485.8" rx="11" ry="8" transform="rotate(0,88.1,485.8)" fill="url(#cr2)" stroke="#6e6e6e" stroke-width="1.0"/>
<ellipse cx="89.75" cy="485.0" rx="5.5" ry="3.6" transform="rotate(25,88.1,485.8)" fill="#c6c6c6" opacity="0.8"/>
<ellipse cx="53.3" cy="506.8" rx="11" ry="9" transform="rotate(0,53.3,506.8)" fill="url(#cr2)" stroke="#6e6e6e" stroke-width="1.0"/>
<ellipse cx="54.949999999999996" cy="505.90000000000003" rx="5.5" ry="4.05" transform="rotate(25,53.3,506.8)" fill="#c6c6c6" opacity="0.8"/>
<ellipse cx="78.9" cy="505.9" rx="10" ry="11" transform="rotate(0,78.9,505.9)" fill="url(#cr)" stroke="#6e6e6e" stroke-width="1.0"/>
<ellipse cx="80.4" cy="504.79999999999995" rx="5.0" ry="4.95" transform="rotate(25,78.9,505.9)" fill="#c6c6c6" opacity="0.8"/>
<path d="M45,500 Q70,490 95,470" stroke="#626262" stroke-width="1.1" fill="none"/>
<path d="M27,490 Q45,480 60,482" stroke="#626262" stroke-width="1.1" fill="none"/>
<path d="M60,444 Q70,470 65,490" stroke="#626262" stroke-width="1.1" fill="none"/>
<path d="M90,500 Q110,495 117,480" stroke="#626262" stroke-width="1.1" fill="none"/>
<path d="M30,460 Q40,450 55,452" stroke="#626262" stroke-width="1.1" fill="none"/>
<ellipse cx="92.6" cy="528.7" rx="8" ry="5" fill="#333"/>
<ellipse cx="37.8" cy="516.9" rx="2" ry="2" fill="#333"/>
<rect x="27" y="444.3" width="90.6" height="90.19999999999999" filter="url(#nz)" opacity="0.36"/>
</g>
<text x="33.6" y="529.3" font-size="7.4" fill="#fff" stroke="#fff" stroke-width="0.15">1 μm</text>
<line x1="29.80" y1="531.20" x2="53.00" y2="531.20" stroke="#fff" stroke-width="1.5" />
</g>
<rect x="27" y="444.3" width="90.6" height="90.19999999999999" fill="none" stroke="#1a1a1a" stroke-width="1.2"/>
<clipPath id="em11"><rect x="120.2" y="444.3" width="89.2" height="90.19999999999999"/></clipPath>
<g clip-path="url(#em11)"><g filter="url(#emb)">
<rect x="120.20" y="444.30" width="89.20" height="90.20" fill="#bcbcbc" />
<rect x="120.2" y="444.3" width="89.2" height="90.19999999999999" filter="url(#nz2)" opacity="0.25"/>
<ellipse cx="165" cy="447.8" rx="46" ry="2.8" fill="#777777" opacity="0.7"/>
<ellipse cx="130.8" cy="461.1" rx="9" ry="8" transform="rotate(0,130.8,461.1)" fill="url(#cr2)" stroke="#6e6e6e" stroke-width="1.0"/>
<ellipse cx="132.15" cy="460.3" rx="4.5" ry="3.6" transform="rotate(25,130.8,461.1)" fill="#c6c6c6" opacity="0.8"/>
<ellipse cx="153.6" cy="476.6" rx="10" ry="9" transform="rotate(0,153.6,476.6)" fill="url(#cr2)" stroke="#6e6e6e" stroke-width="1.0"/>
<ellipse cx="155.1" cy="475.70000000000005" rx="5.0" ry="4.05" transform="rotate(25,153.6,476.6)" fill="#c6c6c6" opacity="0.8"/>
<ellipse cx="141.8" cy="497.7" rx="12" ry="10" transform="rotate(0,141.8,497.7)" fill="url(#cr2)" stroke="#6e6e6e" stroke-width="1.0"/>
<ellipse cx="143.60000000000002" cy="496.7" rx="6.0" ry="4.5" transform="rotate(25,141.8,497.7)" fill="#c6c6c6" opacity="0.8"/>
<ellipse cx="165.5" cy="501.3" rx="11" ry="8" transform="rotate(0,165.5,501.3)" fill="url(#cr2)" stroke="#6e6e6e" stroke-width="1.0"/>
<ellipse cx="167.15" cy="500.5" rx="5.5" ry="3.6" transform="rotate(25,165.5,501.3)" fill="#c6c6c6" opacity="0.8"/>
<ellipse cx="183.8" cy="488.5" rx="9" ry="9" transform="rotate(0,183.8,488.5)" fill="url(#cr2)" stroke="#6e6e6e" stroke-width="1.0"/>
<ellipse cx="185.15" cy="487.6" rx="4.5" ry="4.05" transform="rotate(25,183.8,488.5)" fill="#c6c6c6" opacity="0.8"/>
<ellipse cx="190.2" cy="464.8" rx="11" ry="8" transform="rotate(0,190.2,464.8)" fill="url(#cr2)" stroke="#6e6e6e" stroke-width="1.0"/>
<ellipse cx="191.85" cy="464.0" rx="5.5" ry="3.6" transform="rotate(25,190.2,464.8)" fill="#c6c6c6" opacity="0.8"/>
<ellipse cx="191.1" cy="512.3" rx="13" ry="8" transform="rotate(0,191.1,512.3)" fill="url(#cr2)" stroke="#6e6e6e" stroke-width="1.0"/>
<ellipse cx="193.04999999999998" cy="511.49999999999994" rx="6.5" ry="3.6" transform="rotate(25,191.1,512.3)" fill="#c6c6c6" opacity="0.8"/>
<ellipse cx="172.8" cy="467.5" rx="5" ry="5" transform="rotate(0,172.8,467.5)" fill="url(#cr2)" stroke="#6e6e6e" stroke-width="1.0"/>
<path d="M121,449 Q165,453 209,448" stroke="#626262" stroke-width="1.1" fill="none"/>
<path d="M121,475 Q135,490 125,510" stroke="#626262" stroke-width="1.1" fill="none"/>
<path d="M150,522 Q175,505 209,500" stroke="#626262" stroke-width="1.1" fill="none"/>
<path d="M140,470 Q160,462 175,470" stroke="#626262" stroke-width="1.1" fill="none"/>
<ellipse cx="166.4" cy="518.7" rx="3.5" ry="3.5" fill="#444"/>
<ellipse cx="176.5" cy="524.2" rx="4" ry="4" fill="#444"/>
<rect x="120.2" y="444.3" width="89.2" height="90.19999999999999" filter="url(#nz)" opacity="0.36"/>
</g>
<text x="126.8" y="529.3" font-size="7.4" fill="#fff" stroke="#fff" stroke-width="0.15">1 μm</text>
<line x1="123.00" y1="531.20" x2="146.20" y2="531.20" stroke="#fff" stroke-width="1.5" />
</g>
<rect x="120.2" y="444.3" width="89.2" height="90.19999999999999" fill="none" stroke="#1a1a1a" stroke-width="1.2"/>
<clipPath id="em12"><rect x="212.6" y="444.3" width="90.6" height="90.19999999999999"/></clipPath>
<g clip-path="url(#em12)"><g filter="url(#emb)">
<rect x="212.60" y="444.30" width="90.60" height="90.20" fill="#bcbcbc" />
<rect x="212.6" y="444.3" width="90.6" height="90.19999999999999" filter="url(#nz2)" opacity="0.25"/>
<ellipse cx="218" cy="456" rx="11" ry="15" fill="#606060" opacity="0.85"/>
<ellipse cx="300" cy="500" rx="8" ry="20" fill="#9a9a9a" opacity="0.6"/>
<ellipse cx="255.7" cy="484" rx="9" ry="7" transform="rotate(0,255.7,484)" fill="url(#cr)" stroke="#6e6e6e" stroke-width="1.0"/>
<ellipse cx="239.3" cy="494.9" rx="9" ry="7" transform="rotate(-10,239.3,494.9)" fill="url(#cr)" stroke="#6e6e6e" stroke-width="1.0"/>
<ellipse cx="270.3" cy="513.2" rx="13" ry="9" transform="rotate(0,270.3,513.2)" fill="url(#cr)" stroke="#6e6e6e" stroke-width="1.0"/>
<ellipse cx="233.8" cy="515" rx="9" ry="7" transform="rotate(0,233.8,515)" fill="url(#cr)" stroke="#6e6e6e" stroke-width="1.0"/>
<ellipse cx="294.1" cy="519.6" rx="8" ry="9" transform="rotate(0,294.1,519.6)" fill="url(#cr)" stroke="#6e6e6e" stroke-width="1.0"/>
<ellipse cx="242.9" cy="526.9" rx="6" ry="4" transform="rotate(0,242.9,526.9)" fill="url(#cr)" stroke="#6e6e6e" stroke-width="1.0"/>
<ellipse cx="281.3" cy="468.4" rx="7" ry="15" transform="rotate(15,281.3,468.4)" fill="url(#cr2)" stroke="#6e6e6e" stroke-width="1.0"/>
<path d="M213,480 Q250,470 300,446" stroke="#626262" stroke-width="1.1" fill="none"/>
<path d="M213,505 Q250,490 300,470" stroke="#626262" stroke-width="1.1" fill="none"/>
<path d="M287,470 Q285,495 303,520" stroke="#626262" stroke-width="1.1" fill="none"/>
<path d="M213,484 Q250,474 300,450" stroke="#626262" stroke-width="1.1" fill="none"/>
<path d="M280,446 Q282,470 290,490" stroke="#626262" stroke-width="1.1" fill="none"/>
<ellipse cx="217" cy="456" rx="8" ry="10" fill="#6a6a6a"/>
<rect x="212.6" y="444.3" width="90.6" height="90.19999999999999" filter="url(#nz)" opacity="0.36"/>
</g>
<text x="219.2" y="529.3" font-size="7.4" fill="#fff" stroke="#fff" stroke-width="0.15">1 μm</text>
<line x1="215.40" y1="531.20" x2="238.60" y2="531.20" stroke="#fff" stroke-width="1.5" />
</g>
<rect x="212.6" y="444.3" width="90.6" height="90.19999999999999" fill="none" stroke="#1a1a1a" stroke-width="1.2"/>
<text x="328.20" y="348.40" font-size="10.5" text-anchor="start" fill="#000" stroke="#000" stroke-width="0.14" font-weight="bold" font-style="normal" >H</text>
<line x1="363.50" y1="372.60" x2="363.50" y2="496.40" stroke="#111" stroke-width="1.0" />
<line x1="360.70" y1="375.70" x2="363.50" y2="375.70" stroke="#111" stroke-width="0.9" />
<text x="357.90" y="378.30" font-size="7.5" text-anchor="end" fill="#1a1a1a" stroke="#1a1a1a" stroke-width="0.14" font-weight="normal" font-style="normal" >200</text>
<line x1="360.70" y1="405.88" x2="363.50" y2="405.88" stroke="#111" stroke-width="0.9" />
<text x="357.90" y="408.48" font-size="7.5" text-anchor="end" fill="#1a1a1a" stroke="#1a1a1a" stroke-width="0.14" font-weight="normal" font-style="normal" >150</text>
<line x1="360.70" y1="436.05" x2="363.50" y2="436.05" stroke="#111" stroke-width="0.9" />
<text x="357.90" y="438.65" font-size="7.5" text-anchor="end" fill="#1a1a1a" stroke="#1a1a1a" stroke-width="0.14" font-weight="normal" font-style="normal" >100</text>
<line x1="360.70" y1="466.22" x2="363.50" y2="466.22" stroke="#111" stroke-width="0.9" />
<text x="357.90" y="468.82" font-size="7.5" text-anchor="end" fill="#1a1a1a" stroke="#1a1a1a" stroke-width="0.14" font-weight="normal" font-style="normal" >50</text>
<line x1="360.70" y1="496.40" x2="363.50" y2="496.40" stroke="#111" stroke-width="0.9" />
<text x="357.90" y="499.00" font-size="7.5" text-anchor="end" fill="#1a1a1a" stroke="#1a1a1a" stroke-width="0.14" font-weight="normal" font-style="normal" >0</text>
<line x1="363.50" y1="496.40" x2="506.70" y2="496.40" stroke="#111" stroke-width="0.9" />
<line x1="363.50" y1="496.40" x2="363.50" y2="498.60" stroke="#111" stroke-width="0.8" />
<text x="363.50" y="507.80" font-size="7.5" text-anchor="middle" fill="#1a1a1a" stroke="#1a1a1a" stroke-width="0.14" font-weight="normal" font-style="normal" >0</text>
<line x1="398.25" y1="496.40" x2="398.25" y2="498.60" stroke="#111" stroke-width="0.8" />
<text x="398.25" y="507.80" font-size="7.5" text-anchor="middle" fill="#1a1a1a" stroke="#1a1a1a" stroke-width="0.14" font-weight="normal" font-style="normal" >20</text>
<line x1="433.00" y1="496.40" x2="433.00" y2="498.60" stroke="#111" stroke-width="0.8" />
<text x="433.00" y="507.80" font-size="7.5" text-anchor="middle" fill="#1a1a1a" stroke="#1a1a1a" stroke-width="0.14" font-weight="normal" font-style="normal" >40</text>
<line x1="467.75" y1="496.40" x2="467.75" y2="498.60" stroke="#111" stroke-width="0.8" />
<text x="467.75" y="507.80" font-size="7.5" text-anchor="middle" fill="#1a1a1a" stroke="#1a1a1a" stroke-width="0.14" font-weight="normal" font-style="normal" >60</text>
<line x1="502.50" y1="496.40" x2="502.50" y2="498.60" stroke="#111" stroke-width="0.8" />
<text x="502.50" y="507.80" font-size="7.5" text-anchor="middle" fill="#1a1a1a" stroke="#1a1a1a" stroke-width="0.14" font-weight="normal" font-style="normal" >80</text>
<text transform="translate(435.50,521.30) scale(0.696,1)" font-size="8.7" text-anchor="middle" fill="#1a1a1a" font-weight="bold" font-style="normal">Time (minutes)</text>
<text transform="translate(337.70,434.85) rotate(-90) scale(0.683,1)" font-size="8.7" text-anchor="middle" fill="#1a1a1a" font-weight="bold" font-style="normal">OCR (pmol/min)</text>
<line x1="371.00" y1="374.70" x2="383.00" y2="374.70" stroke="#cc1137" stroke-width="1.5" />
<circle cx="377.00" cy="374.70" r="2.20" fill="#cc1137"/>
<text x="385.50" y="377.40" font-size="7.4" text-anchor="start" fill="#1a1a1a" stroke="#1a1a1a" stroke-width="0.14" font-weight="normal" font-style="italic" >WT</text>
<line x1="405.00" y1="374.70" x2="417.00" y2="374.70" stroke="#13528b" stroke-width="1.5" />
<rect x="409.00" y="372.50" width="4.40" height="4.40" fill="#13528b"/>
<text x="419.80" y="377.40" font-size="7.4" text-anchor="start" fill="#1a1a1a" stroke="#1a1a1a" stroke-width="0.14" font-weight="normal" font-style="italic" >KQ</text>
<text x="386.60" y="390.00" font-size="7.45" text-anchor="middle" fill="#111" stroke="#111" stroke-width="0.14" font-weight="normal" font-style="normal" >Oligomycin</text>
<text x="422.30" y="390.00" font-size="7.45" text-anchor="middle" fill="#111" stroke="#111" stroke-width="0.14" font-weight="normal" font-style="normal" >FCCP</text>
<text x="476.60" y="390.00" font-size="7.45" text-anchor="middle" fill="#111" stroke="#111" stroke-width="0.14" font-weight="normal" font-style="normal" >Rotenone/Antimycin A</text>
<line x1="389.50" y1="393.80" x2="389.50" y2="402.80" stroke="#000" stroke-width="1.0" />
<polygon points="387.50,401.40 391.50,401.40 389.50,404.80" fill="#000"/>
<line x1="423.40" y1="393.80" x2="423.40" y2="402.80" stroke="#000" stroke-width="1.0" />
<polygon points="421.40,401.40 425.40,401.40 423.40,404.80" fill="#000"/>
<line x1="459.20" y1="393.80" x2="459.20" y2="402.80" stroke="#000" stroke-width="1.0" />
<polygon points="457.20,401.40 461.20,401.40 459.20,404.80" fill="#000"/>
<line x1="366.00" y1="450.00" x2="366.00" y2="473.70" stroke="#3f7fb5" stroke-width="0.9" />
<line x1="363.80" y1="450.00" x2="368.20" y2="450.00" stroke="#3f7fb5" stroke-width="0.9" />
<line x1="363.80" y1="473.70" x2="368.20" y2="473.70" stroke="#3f7fb5" stroke-width="0.9" />
<line x1="377.90" y1="461.30" x2="377.90" y2="479.70" stroke="#3f7fb5" stroke-width="0.9" />
<line x1="375.70" y1="461.30" x2="380.10" y2="461.30" stroke="#3f7fb5" stroke-width="0.9" />
<line x1="375.70" y1="479.70" x2="380.10" y2="479.70" stroke="#3f7fb5" stroke-width="0.9" />
<line x1="389.50" y1="465.60" x2="389.50" y2="481.90" stroke="#3f7fb5" stroke-width="0.9" />
<line x1="387.30" y1="465.60" x2="391.70" y2="465.60" stroke="#3f7fb5" stroke-width="0.9" />
<line x1="387.30" y1="481.90" x2="391.70" y2="481.90" stroke="#3f7fb5" stroke-width="0.9" />
<line x1="401.30" y1="484.00" x2="401.30" y2="491.00" stroke="#3f7fb5" stroke-width="0.9" />
<line x1="399.10" y1="484.00" x2="403.50" y2="484.00" stroke="#3f7fb5" stroke-width="0.9" />
<line x1="399.10" y1="491.00" x2="403.50" y2="491.00" stroke="#3f7fb5" stroke-width="0.9" />
<line x1="413.00" y1="484.70" x2="413.00" y2="493.10" stroke="#3f7fb5" stroke-width="0.9" />
<line x1="410.80" y1="484.70" x2="415.20" y2="484.70" stroke="#3f7fb5" stroke-width="0.9" />
<line x1="410.80" y1="493.10" x2="415.20" y2="493.10" stroke="#3f7fb5" stroke-width="0.9" />
<line x1="424.40" y1="487.30" x2="424.40" y2="491.60" stroke="#3f7fb5" stroke-width="0.9" />
<line x1="422.20" y1="487.30" x2="426.60" y2="487.30" stroke="#3f7fb5" stroke-width="0.9" />
<line x1="422.20" y1="491.60" x2="426.60" y2="491.60" stroke="#3f7fb5" stroke-width="0.9" />
<line x1="435.80" y1="467.40" x2="435.80" y2="490.10" stroke="#3f7fb5" stroke-width="0.9" />
<line x1="433.60" y1="467.40" x2="438.00" y2="467.40" stroke="#3f7fb5" stroke-width="0.9" />
<line x1="433.60" y1="490.10" x2="438.00" y2="490.10" stroke="#3f7fb5" stroke-width="0.9" />
<line x1="447.50" y1="462.40" x2="447.50" y2="491.00" stroke="#3f7fb5" stroke-width="0.9" />
<line x1="445.30" y1="462.40" x2="449.70" y2="462.40" stroke="#3f7fb5" stroke-width="0.9" />
<line x1="445.30" y1="491.00" x2="449.70" y2="491.00" stroke="#3f7fb5" stroke-width="0.9" />
<line x1="459.20" y1="462.40" x2="459.20" y2="489.50" stroke="#3f7fb5" stroke-width="0.9" />
<line x1="457.00" y1="462.40" x2="461.40" y2="462.40" stroke="#3f7fb5" stroke-width="0.9" />
<line x1="457.00" y1="489.50" x2="461.40" y2="489.50" stroke="#3f7fb5" stroke-width="0.9" />
<line x1="471.10" y1="492.30" x2="471.10" y2="496.00" stroke="#3f7fb5" stroke-width="0.9" />
<line x1="468.90" y1="492.30" x2="473.30" y2="492.30" stroke="#3f7fb5" stroke-width="0.9" />
<line x1="468.90" y1="496.00" x2="473.30" y2="496.00" stroke="#3f7fb5" stroke-width="0.9" />
<line x1="482.80" y1="492.00" x2="482.80" y2="496.00" stroke="#3f7fb5" stroke-width="0.9" />
<line x1="480.60" y1="492.00" x2="485.00" y2="492.00" stroke="#3f7fb5" stroke-width="0.9" />
<line x1="480.60" y1="496.00" x2="485.00" y2="496.00" stroke="#3f7fb5" stroke-width="0.9" />
<line x1="494.20" y1="491.60" x2="494.20" y2="496.00" stroke="#3f7fb5" stroke-width="0.9" />
<line x1="492.00" y1="491.60" x2="496.40" y2="491.60" stroke="#3f7fb5" stroke-width="0.9" />
<line x1="492.00" y1="496.00" x2="496.40" y2="496.00" stroke="#3f7fb5" stroke-width="0.9" />
<polyline points="366.00,461.80 377.90,470.60 389.50,473.70 401.30,487.30 413.00,488.80 424.40,489.50 435.80,479.00 447.50,476.50 459.20,475.80 471.10,494.40 482.80,494.20 494.20,493.80" stroke="#13528b" stroke-width="1.3" fill="none" stroke-linejoin="round" />
<rect x="364.10" y="459.90" width="3.80" height="3.80" fill="#13528b"/>
<rect x="376.00" y="468.70" width="3.80" height="3.80" fill="#13528b"/>
<rect x="387.60" y="471.80" width="3.80" height="3.80" fill="#13528b"/>
<rect x="399.40" y="485.40" width="3.80" height="3.80" fill="#13528b"/>
<rect x="411.10" y="486.90" width="3.80" height="3.80" fill="#13528b"/>
<rect x="422.50" y="487.60" width="3.80" height="3.80" fill="#13528b"/>
<rect x="433.90" y="477.10" width="3.80" height="3.80" fill="#13528b"/>
<rect x="445.60" y="474.60" width="3.80" height="3.80" fill="#13528b"/>
<rect x="457.30" y="473.90" width="3.80" height="3.80" fill="#13528b"/>
<rect x="469.20" y="492.50" width="3.80" height="3.80" fill="#13528b"/>
<rect x="480.90" y="492.30" width="3.80" height="3.80" fill="#13528b"/>
<rect x="492.30" y="491.90" width="3.80" height="3.80" fill="#13528b"/>
<line x1="366.00" y1="412.20" x2="366.00" y2="440.30" stroke="#d9486a" stroke-width="0.9" />
<line x1="363.80" y1="412.20" x2="368.20" y2="412.20" stroke="#d9486a" stroke-width="0.9" />
<line x1="363.80" y1="440.30" x2="368.20" y2="440.30" stroke="#d9486a" stroke-width="0.9" />
<line x1="377.90" y1="428.90" x2="377.90" y2="446.20" stroke="#d9486a" stroke-width="0.9" />
<line x1="375.70" y1="428.90" x2="380.10" y2="428.90" stroke="#d9486a" stroke-width="0.9" />
<line x1="375.70" y1="446.20" x2="380.10" y2="446.20" stroke="#d9486a" stroke-width="0.9" />
<line x1="389.50" y1="432.70" x2="389.50" y2="452.00" stroke="#d9486a" stroke-width="0.9" />
<line x1="387.30" y1="432.70" x2="391.70" y2="432.70" stroke="#d9486a" stroke-width="0.9" />
<line x1="387.30" y1="452.00" x2="391.70" y2="452.00" stroke="#d9486a" stroke-width="0.9" />
<line x1="401.30" y1="465.60" x2="401.30" y2="475.80" stroke="#d9486a" stroke-width="0.9" />
<line x1="399.10" y1="465.60" x2="403.50" y2="465.60" stroke="#d9486a" stroke-width="0.9" />
<line x1="399.10" y1="475.80" x2="403.50" y2="475.80" stroke="#d9486a" stroke-width="0.9" />
<line x1="413.00" y1="465.60" x2="413.00" y2="475.80" stroke="#d9486a" stroke-width="0.9" />
<line x1="410.80" y1="465.60" x2="415.20" y2="465.60" stroke="#d9486a" stroke-width="0.9" />
<line x1="410.80" y1="475.80" x2="415.20" y2="475.80" stroke="#d9486a" stroke-width="0.9" />
<line x1="424.40" y1="466.30" x2="424.40" y2="477.60" stroke="#d9486a" stroke-width="0.9" />
<line x1="422.20" y1="466.30" x2="426.60" y2="466.30" stroke="#d9486a" stroke-width="0.9" />
<line x1="422.20" y1="477.60" x2="426.60" y2="477.60" stroke="#d9486a" stroke-width="0.9" />
<line x1="435.80" y1="386.20" x2="435.80" y2="440.30" stroke="#d9486a" stroke-width="0.9" />
<line x1="433.60" y1="386.20" x2="438.00" y2="386.20" stroke="#d9486a" stroke-width="0.9" />
<line x1="433.60" y1="440.30" x2="438.00" y2="440.30" stroke="#d9486a" stroke-width="0.9" />
<line x1="447.50" y1="405.50" x2="447.50" y2="426.70" stroke="#d9486a" stroke-width="0.9" />
<line x1="445.30" y1="405.50" x2="449.70" y2="405.50" stroke="#d9486a" stroke-width="0.9" />
<line x1="445.30" y1="426.70" x2="449.70" y2="426.70" stroke="#d9486a" stroke-width="0.9" />
<line x1="459.20" y1="405.70" x2="459.20" y2="425.60" stroke="#d9486a" stroke-width="0.9" />
<line x1="457.00" y1="405.70" x2="461.40" y2="405.70" stroke="#d9486a" stroke-width="0.9" />
<line x1="457.00" y1="425.60" x2="461.40" y2="425.60" stroke="#d9486a" stroke-width="0.9" />
<line x1="471.10" y1="478.60" x2="471.10" y2="486.20" stroke="#d9486a" stroke-width="0.9" />
<line x1="468.90" y1="478.60" x2="473.30" y2="478.60" stroke="#d9486a" stroke-width="0.9" />
<line x1="468.90" y1="486.20" x2="473.30" y2="486.20" stroke="#d9486a" stroke-width="0.9" />
<line x1="482.80" y1="478.20" x2="482.80" y2="484.00" stroke="#d9486a" stroke-width="0.9" />
<line x1="480.60" y1="478.20" x2="485.00" y2="478.20" stroke="#d9486a" stroke-width="0.9" />
<line x1="480.60" y1="484.00" x2="485.00" y2="484.00" stroke="#d9486a" stroke-width="0.9" />
<line x1="494.20" y1="476.50" x2="494.20" y2="485.80" stroke="#d9486a" stroke-width="0.9" />
<line x1="492.00" y1="476.50" x2="496.40" y2="476.50" stroke="#d9486a" stroke-width="0.9" />
<line x1="492.00" y1="485.80" x2="496.40" y2="485.80" stroke="#d9486a" stroke-width="0.9" />
<polyline points="366.00,426.30 377.90,437.50 389.50,442.30 401.30,470.40 413.00,470.40 424.40,471.70 435.80,413.00 447.50,415.90 459.20,415.90 471.10,482.50 482.80,481.20 494.20,481.20" stroke="#cc1137" stroke-width="1.3" fill="none" stroke-linejoin="round" />
<circle cx="366.00" cy="426.30" r="1.90" fill="#cc1137"/>
<circle cx="377.90" cy="437.50" r="1.90" fill="#cc1137"/>
<circle cx="389.50" cy="442.30" r="1.90" fill="#cc1137"/>
<circle cx="401.30" cy="470.40" r="1.90" fill="#cc1137"/>
<circle cx="413.00" cy="470.40" r="1.90" fill="#cc1137"/>
<circle cx="424.40" cy="471.70" r="1.90" fill="#cc1137"/>
<circle cx="435.80" cy="413.00" r="1.90" fill="#cc1137"/>
<circle cx="447.50" cy="415.90" r="1.90" fill="#cc1137"/>
<circle cx="459.20" cy="415.90" r="1.90" fill="#cc1137"/>
<circle cx="471.10" cy="482.50" r="1.90" fill="#cc1137"/>
<circle cx="482.80" cy="481.20" r="1.90" fill="#cc1137"/>
<circle cx="494.20" cy="481.20" r="1.90" fill="#cc1137"/>
<text x="6.80" y="549.00" font-size="10.5" text-anchor="start" fill="#000" stroke="#000" stroke-width="0.14" font-weight="bold" font-style="normal" >I</text>
<line x1="45.00" y1="550.00" x2="45.00" y2="628.75" stroke="#111" stroke-width="1.0" />
<line x1="42.20" y1="553.00" x2="45.00" y2="553.00" stroke="#111" stroke-width="0.9" />
<text x="39.40" y="555.60" font-size="7.5" text-anchor="end" fill="#1a1a1a" stroke="#1a1a1a" stroke-width="0.14" font-weight="normal" font-style="normal" >100</text>
<line x1="42.20" y1="568.15" x2="45.00" y2="568.15" stroke="#111" stroke-width="0.9" />
<text x="39.40" y="570.75" font-size="7.5" text-anchor="end" fill="#1a1a1a" stroke="#1a1a1a" stroke-width="0.14" font-weight="normal" font-style="normal" >80</text>
<line x1="42.20" y1="583.30" x2="45.00" y2="583.30" stroke="#111" stroke-width="0.9" />
<text x="39.40" y="585.90" font-size="7.5" text-anchor="end" fill="#1a1a1a" stroke="#1a1a1a" stroke-width="0.14" font-weight="normal" font-style="normal" >60</text>
<line x1="42.20" y1="598.45" x2="45.00" y2="598.45" stroke="#111" stroke-width="0.9" />
<text x="39.40" y="601.05" font-size="7.5" text-anchor="end" fill="#1a1a1a" stroke="#1a1a1a" stroke-width="0.14" font-weight="normal" font-style="normal" >40</text>
<line x1="42.20" y1="613.60" x2="45.00" y2="613.60" stroke="#111" stroke-width="0.9" />
<text x="39.40" y="616.20" font-size="7.5" text-anchor="end" fill="#1a1a1a" stroke="#1a1a1a" stroke-width="0.14" font-weight="normal" font-style="normal" >20</text>
<line x1="42.20" y1="628.75" x2="45.00" y2="628.75" stroke="#111" stroke-width="0.9" />
<text x="39.40" y="631.35" font-size="7.5" text-anchor="end" fill="#1a1a1a" stroke="#1a1a1a" stroke-width="0.14" font-weight="normal" font-style="normal" >0</text>
<line x1="45.00" y1="628.75" x2="102.50" y2="628.75" stroke="#111" stroke-width="0.9" />
<line x1="45.00" y1="628.75" x2="45.00" y2="630.75" stroke="#111" stroke-width="0.8" />
<text x="45.00" y="640.50" font-size="7.5" text-anchor="middle" fill="#1a1a1a" stroke="#1a1a1a" stroke-width="0.14" font-weight="normal" font-style="normal" >0d</text>
<line x1="70.00" y1="628.75" x2="70.00" y2="630.75" stroke="#111" stroke-width="0.8" />
<text x="70.00" y="640.50" font-size="7.5" text-anchor="middle" fill="#1a1a1a" stroke="#1a1a1a" stroke-width="0.14" font-weight="normal" font-style="normal" >1d</text>
<line x1="95.50" y1="628.75" x2="95.50" y2="630.75" stroke="#111" stroke-width="0.8" />
<text x="95.50" y="640.50" font-size="7.5" text-anchor="middle" fill="#1a1a1a" stroke="#1a1a1a" stroke-width="0.14" font-weight="normal" font-style="normal" >2d</text>
<line x1="95.50" y1="589.50" x2="95.50" y2="593.00" stroke="#cc1137" stroke-width="0.8" />
<line x1="93.50" y1="589.50" x2="97.50" y2="589.50" stroke="#cc1137" stroke-width="0.8" />
<line x1="93.50" y1="593.00" x2="97.50" y2="593.00" stroke="#cc1137" stroke-width="0.8" />
<line x1="45.00" y1="618.00" x2="45.00" y2="623.50" stroke="#13528b" stroke-width="0.8" />
<line x1="43.00" y1="618.00" x2="47.00" y2="618.00" stroke="#13528b" stroke-width="0.8" />
<line x1="43.00" y1="623.50" x2="47.00" y2="623.50" stroke="#13528b" stroke-width="0.8" />
<line x1="70.00" y1="603.00" x2="70.00" y2="607.00" stroke="#13528b" stroke-width="0.8" />
<line x1="68.00" y1="603.00" x2="72.00" y2="603.00" stroke="#13528b" stroke-width="0.8" />
<line x1="68.00" y1="607.00" x2="72.00" y2="607.00" stroke="#13528b" stroke-width="0.8" />
<line x1="95.50" y1="560.50" x2="95.50" y2="568.50" stroke="#13528b" stroke-width="0.8" />
<line x1="93.50" y1="560.50" x2="97.50" y2="560.50" stroke="#13528b" stroke-width="0.8" />
<line x1="93.50" y1="568.50" x2="97.50" y2="568.50" stroke="#13528b" stroke-width="0.8" />
<polyline points="45.00,622.00 70.00,613.75 95.50,591.25" stroke="#cc1137" stroke-width="1.4" fill="none" stroke-linejoin="round" />
<circle cx="45.00" cy="622.00" r="2.10" fill="#cc1137"/>
<circle cx="70.00" cy="613.75" r="2.10" fill="#cc1137"/>
<circle cx="95.50" cy="591.25" r="2.10" fill="#cc1137"/>
<polyline points="45.00,620.75 70.00,605.00 95.50,564.50" stroke="#13528b" stroke-width="1.4" fill="none" stroke-linejoin="round" />
<rect x="43.00" y="618.75" width="4.00" height="4.00" fill="#13528b"/>
<rect x="68.00" y="603.00" width="4.00" height="4.00" fill="#13528b"/>
<rect x="93.50" y="562.50" width="4.00" height="4.00" fill="#13528b"/>
<rect x="69.08" y="596.58" width="1.85" height="1.67" fill="#1a1a1a" rx="0.3"/>
<rect x="94.58" y="556.08" width="1.85" height="1.67" fill="#1a1a1a" rx="0.3"/>
<line x1="47.50" y1="548.80" x2="57.50" y2="548.80" stroke="#cc1137" stroke-width="1.5" />
<circle cx="52.50" cy="548.80" r="2.20" fill="#cc1137"/>
<text x="61.20" y="551.40" font-size="7.4" text-anchor="start" fill="#1a1a1a" stroke="#1a1a1a" stroke-width="0.14" font-weight="normal" font-style="italic" >WT</text>
<line x1="47.50" y1="557.50" x2="57.50" y2="557.50" stroke="#13528b" stroke-width="1.5" />
<rect x="50.30" y="555.30" width="4.40" height="4.40" fill="#13528b"/>
<text x="61.20" y="560.10" font-size="7.4" text-anchor="start" fill="#1a1a1a" stroke="#1a1a1a" stroke-width="0.14" font-weight="normal" font-style="italic" >KQ</text>
<text transform="translate(20.20,588.80) rotate(-90) scale(0.688,1)" font-size="8.7" text-anchor="middle" fill="#1a1a1a" font-weight="bold" font-style="normal">AnnexinV<tspan font-size="5" dy="-2.8">+</tspan><tspan dy="2.8"> percent</tspan></text>
<line x1="169.80" y1="549.80" x2="169.80" y2="628.70" stroke="#111" stroke-width="1.0" />
<line x1="167.00" y1="553.30" x2="169.80" y2="553.30" stroke="#111" stroke-width="0.9" />
<text x="164.20" y="555.90" font-size="7.5" text-anchor="end" fill="#1a1a1a" stroke="#1a1a1a" stroke-width="0.14" font-weight="normal" font-style="normal" >1.5</text>
<line x1="167.00" y1="578.43" x2="169.80" y2="578.43" stroke="#111" stroke-width="0.9" />
<text x="164.20" y="581.03" font-size="7.5" text-anchor="end" fill="#1a1a1a" stroke="#1a1a1a" stroke-width="0.14" font-weight="normal" font-style="normal" >1.0</text>
<line x1="167.00" y1="603.57" x2="169.80" y2="603.57" stroke="#111" stroke-width="0.9" />
<text x="164.20" y="606.17" font-size="7.5" text-anchor="end" fill="#1a1a1a" stroke="#1a1a1a" stroke-width="0.14" font-weight="normal" font-style="normal" >0.5</text>
<line x1="167.00" y1="628.70" x2="169.80" y2="628.70" stroke="#111" stroke-width="0.9" />
<text x="164.20" y="631.30" font-size="7.5" text-anchor="end" fill="#1a1a1a" stroke="#1a1a1a" stroke-width="0.14" font-weight="normal" font-style="normal" >0.0</text>
<line x1="169.80" y1="628.70" x2="227.70" y2="628.70" stroke="#111" stroke-width="0.9" />
<line x1="169.80" y1="628.70" x2="169.80" y2="630.70" stroke="#111" stroke-width="0.8" />
<text x="169.80" y="640.50" font-size="7.5" text-anchor="middle" fill="#1a1a1a" stroke="#1a1a1a" stroke-width="0.14" font-weight="normal" font-style="normal" >0d</text>
<line x1="195.90" y1="628.70" x2="195.90" y2="630.70" stroke="#111" stroke-width="0.8" />
<text x="195.90" y="640.50" font-size="7.5" text-anchor="middle" fill="#1a1a1a" stroke="#1a1a1a" stroke-width="0.14" font-weight="normal" font-style="normal" >1d</text>
<line x1="221.00" y1="628.70" x2="221.00" y2="630.70" stroke="#111" stroke-width="0.8" />
<text x="221.00" y="640.50" font-size="7.5" text-anchor="middle" fill="#1a1a1a" stroke="#1a1a1a" stroke-width="0.14" font-weight="normal" font-style="normal" >2d</text>
<line x1="169.80" y1="570.00" x2="169.80" y2="585.60" stroke="#cc1137" stroke-width="0.8" />
<line x1="167.80" y1="570.00" x2="171.80" y2="570.00" stroke="#cc1137" stroke-width="0.8" />
<line x1="167.80" y1="585.60" x2="171.80" y2="585.60" stroke="#cc1137" stroke-width="0.8" />
<line x1="195.90" y1="587.50" x2="195.90" y2="597.70" stroke="#cc1137" stroke-width="0.8" />
<line x1="193.90" y1="587.50" x2="197.90" y2="587.50" stroke="#cc1137" stroke-width="0.8" />
<line x1="193.90" y1="597.70" x2="197.90" y2="597.70" stroke="#cc1137" stroke-width="0.8" />
<line x1="221.00" y1="606.00" x2="221.00" y2="610.50" stroke="#cc1137" stroke-width="0.8" />
<line x1="219.00" y1="606.00" x2="223.00" y2="606.00" stroke="#cc1137" stroke-width="0.8" />
<line x1="219.00" y1="610.50" x2="223.00" y2="610.50" stroke="#cc1137" stroke-width="0.8" />
<line x1="169.80" y1="565.40" x2="169.80" y2="592.90" stroke="#13528b" stroke-width="0.8" />
<line x1="167.80" y1="565.40" x2="171.80" y2="565.40" stroke="#13528b" stroke-width="0.8" />
<line x1="167.80" y1="592.90" x2="171.80" y2="592.90" stroke="#13528b" stroke-width="0.8" />
<line x1="195.90" y1="612.20" x2="195.90" y2="615.60" stroke="#13528b" stroke-width="0.8" />
<line x1="193.90" y1="612.20" x2="197.90" y2="612.20" stroke="#13528b" stroke-width="0.8" />
<line x1="193.90" y1="615.60" x2="197.90" y2="615.60" stroke="#13528b" stroke-width="0.8" />
<line x1="221.00" y1="612.70" x2="221.00" y2="616.10" stroke="#13528b" stroke-width="0.8" />
<line x1="219.00" y1="612.70" x2="223.00" y2="612.70" stroke="#13528b" stroke-width="0.8" />
<line x1="219.00" y1="616.10" x2="223.00" y2="616.10" stroke="#13528b" stroke-width="0.8" />
<polyline points="169.80,577.50 195.90,592.40 221.00,608.20" stroke="#cc1137" stroke-width="1.4" fill="none" stroke-linejoin="round" />
<circle cx="169.80" cy="577.50" r="2.10" fill="#cc1137"/>
<circle cx="195.90" cy="592.40" r="2.10" fill="#cc1137"/>
<circle cx="221.00" cy="608.20" r="2.10" fill="#cc1137"/>
<polyline points="169.80,578.90 195.90,613.90 221.00,614.40" stroke="#13528b" stroke-width="1.4" fill="none" stroke-linejoin="round" />
<rect x="167.80" y="576.90" width="4.00" height="4.00" fill="#13528b"/>
<rect x="193.90" y="611.90" width="4.00" height="4.00" fill="#13528b"/>
<rect x="219.00" y="612.40" width="4.00" height="4.00" fill="#13528b"/>
<rect x="194.97" y="618.38" width="1.85" height="1.67" fill="#1a1a1a" rx="0.3"/>
<text transform="translate(137.30,589.00) rotate(-90) scale(0.670,1)" font-size="8.7" text-anchor="middle" fill="#1a1a1a" font-weight="bold" font-style="normal">Relative MMP</text>
<text transform="translate(148.00,589.00) rotate(-90) scale(0.679,1)" font-size="8.7" text-anchor="middle" fill="#1a1a1a" font-weight="bold" font-style="normal">compared to 0d</text>
<line x1="295.30" y1="548.80" x2="295.30" y2="628.20" stroke="#111" stroke-width="1.0" />
<line x1="292.50" y1="552.92" x2="295.30" y2="552.92" stroke="#111" stroke-width="0.9" />
<text x="289.70" y="555.52" font-size="7.5" text-anchor="end" fill="#1a1a1a" stroke="#1a1a1a" stroke-width="0.14" font-weight="normal" font-style="normal" >8.0</text>
<line x1="292.50" y1="571.74" x2="295.30" y2="571.74" stroke="#111" stroke-width="0.9" />
<text x="289.70" y="574.34" font-size="7.5" text-anchor="end" fill="#1a1a1a" stroke="#1a1a1a" stroke-width="0.14" font-weight="normal" font-style="normal" >6.0</text>
<line x1="292.50" y1="590.56" x2="295.30" y2="590.56" stroke="#111" stroke-width="0.9" />
<text x="289.70" y="593.16" font-size="7.5" text-anchor="end" fill="#1a1a1a" stroke="#1a1a1a" stroke-width="0.14" font-weight="normal" font-style="normal" >4.0</text>
<line x1="292.50" y1="609.38" x2="295.30" y2="609.38" stroke="#111" stroke-width="0.9" />
<text x="289.70" y="611.98" font-size="7.5" text-anchor="end" fill="#1a1a1a" stroke="#1a1a1a" stroke-width="0.14" font-weight="normal" font-style="normal" >2.0</text>
<line x1="292.50" y1="628.20" x2="295.30" y2="628.20" stroke="#111" stroke-width="0.9" />
<text x="289.70" y="630.80" font-size="7.5" text-anchor="end" fill="#1a1a1a" stroke="#1a1a1a" stroke-width="0.14" font-weight="normal" font-style="normal" >0.0</text>
<line x1="295.30" y1="628.20" x2="353.00" y2="628.20" stroke="#111" stroke-width="0.9" />
<line x1="295.30" y1="628.20" x2="295.30" y2="630.20" stroke="#111" stroke-width="0.8" />
<text x="295.30" y="640.50" font-size="7.5" text-anchor="middle" fill="#1a1a1a" stroke="#1a1a1a" stroke-width="0.14" font-weight="normal" font-style="normal" >0d</text>
<line x1="321.20" y1="628.20" x2="321.20" y2="630.20" stroke="#111" stroke-width="0.8" />
<text x="321.20" y="640.50" font-size="7.5" text-anchor="middle" fill="#1a1a1a" stroke="#1a1a1a" stroke-width="0.14" font-weight="normal" font-style="normal" >1d</text>
<line x1="348.00" y1="628.20" x2="348.00" y2="630.20" stroke="#111" stroke-width="0.8" />
<text x="348.00" y="640.50" font-size="7.5" text-anchor="middle" fill="#1a1a1a" stroke="#1a1a1a" stroke-width="0.14" font-weight="normal" font-style="normal" >2d</text>
<line x1="348.00" y1="577.70" x2="348.00" y2="587.50" stroke="#cc1137" stroke-width="0.8" />
<line x1="346.00" y1="577.70" x2="350.00" y2="577.70" stroke="#cc1137" stroke-width="0.8" />
<line x1="346.00" y1="587.50" x2="350.00" y2="587.50" stroke="#cc1137" stroke-width="0.8" />
<line x1="295.30" y1="616.50" x2="295.30" y2="621.00" stroke="#13528b" stroke-width="0.8" />
<line x1="293.30" y1="616.50" x2="297.30" y2="616.50" stroke="#13528b" stroke-width="0.8" />
<line x1="293.30" y1="621.00" x2="297.30" y2="621.00" stroke="#13528b" stroke-width="0.8" />
<line x1="321.20" y1="596.50" x2="321.20" y2="601.50" stroke="#13528b" stroke-width="0.8" />
<line x1="319.20" y1="596.50" x2="323.20" y2="596.50" stroke="#13528b" stroke-width="0.8" />
<line x1="319.20" y1="601.50" x2="323.20" y2="601.50" stroke="#13528b" stroke-width="0.8" />
<line x1="348.00" y1="558.70" x2="348.00" y2="569.60" stroke="#13528b" stroke-width="0.8" />
<line x1="346.00" y1="558.70" x2="350.00" y2="558.70" stroke="#13528b" stroke-width="0.8" />
<line x1="346.00" y1="569.60" x2="350.00" y2="569.60" stroke="#13528b" stroke-width="0.8" />
<polyline points="295.30,619.20 321.20,612.30 348.00,582.60" stroke="#cc1137" stroke-width="1.4" fill="none" stroke-linejoin="round" />
<circle cx="295.30" cy="619.20" r="2.10" fill="#cc1137"/>
<circle cx="321.20" cy="612.30" r="2.10" fill="#cc1137"/>
<circle cx="348.00" cy="582.60" r="2.10" fill="#cc1137"/>
<polyline points="295.30,618.60 321.20,599.00 348.00,564.40" stroke="#13528b" stroke-width="1.4" fill="none" stroke-linejoin="round" />
<rect x="293.30" y="616.60" width="4.00" height="4.00" fill="#13528b"/>
<rect x="319.20" y="597.00" width="4.00" height="4.00" fill="#13528b"/>
<rect x="346.00" y="562.40" width="4.00" height="4.00" fill="#13528b"/>
<rect x="320.27" y="589.48" width="1.85" height="1.67" fill="#1a1a1a" rx="0.3"/>
<text transform="translate(262.30,589.00) rotate(-90) scale(0.670,1)" font-size="8.7" text-anchor="middle" fill="#1a1a1a" font-weight="bold" font-style="normal">Relative mtROS</text>
<text transform="translate(273.00,589.00) rotate(-90) scale(0.679,1)" font-size="8.7" text-anchor="middle" fill="#1a1a1a" font-weight="bold" font-style="normal">compared to 0d</text>
<text x="388.50" y="549.30" font-size="10.5" text-anchor="start" fill="#000" stroke="#000" stroke-width="0.14" font-weight="bold" font-style="normal" >J</text>
<line x1="430.70" y1="549.30" x2="430.70" y2="628.50" stroke="#111" stroke-width="1.0" />
<line x1="427.90" y1="553.20" x2="430.70" y2="553.20" stroke="#111" stroke-width="0.9" />
<text x="425.10" y="555.80" font-size="7.5" text-anchor="end" fill="#1a1a1a" stroke="#1a1a1a" stroke-width="0.14" font-weight="normal" font-style="normal" >120</text>
<line x1="427.90" y1="565.75" x2="430.70" y2="565.75" stroke="#111" stroke-width="0.9" />
<text x="425.10" y="568.35" font-size="7.5" text-anchor="end" fill="#1a1a1a" stroke="#1a1a1a" stroke-width="0.14" font-weight="normal" font-style="normal" >100</text>
<line x1="427.90" y1="578.30" x2="430.70" y2="578.30" stroke="#111" stroke-width="0.9" />
<text x="425.10" y="580.90" font-size="7.5" text-anchor="end" fill="#1a1a1a" stroke="#1a1a1a" stroke-width="0.14" font-weight="normal" font-style="normal" >80</text>
<line x1="427.90" y1="590.85" x2="430.70" y2="590.85" stroke="#111" stroke-width="0.9" />
<text x="425.10" y="593.45" font-size="7.5" text-anchor="end" fill="#1a1a1a" stroke="#1a1a1a" stroke-width="0.14" font-weight="normal" font-style="normal" >60</text>
<line x1="427.90" y1="603.40" x2="430.70" y2="603.40" stroke="#111" stroke-width="0.9" />
<text x="425.10" y="606.00" font-size="7.5" text-anchor="end" fill="#1a1a1a" stroke="#1a1a1a" stroke-width="0.14" font-weight="normal" font-style="normal" >40</text>
<line x1="427.90" y1="615.95" x2="430.70" y2="615.95" stroke="#111" stroke-width="0.9" />
<text x="425.10" y="618.55" font-size="7.5" text-anchor="end" fill="#1a1a1a" stroke="#1a1a1a" stroke-width="0.14" font-weight="normal" font-style="normal" >20</text>
<line x1="427.90" y1="628.50" x2="430.70" y2="628.50" stroke="#111" stroke-width="0.9" />
<text x="425.10" y="631.10" font-size="7.5" text-anchor="end" fill="#1a1a1a" stroke="#1a1a1a" stroke-width="0.14" font-weight="normal" font-style="normal" >0</text>
<line x1="430.70" y1="628.50" x2="506.00" y2="628.50" stroke="#111" stroke-width="0.9" />
<line x1="430.70" y1="628.50" x2="430.70" y2="630.50" stroke="#111" stroke-width="0.8" />
<text x="430.70" y="640.50" font-size="7.5" text-anchor="middle" fill="#1a1a1a" stroke="#1a1a1a" stroke-width="0.14" font-weight="normal" font-style="normal" >0h</text>
<line x1="460.80" y1="628.50" x2="460.80" y2="630.50" stroke="#111" stroke-width="0.8" />
<text x="460.80" y="640.50" font-size="7.5" text-anchor="middle" fill="#1a1a1a" stroke="#1a1a1a" stroke-width="0.14" font-weight="normal" font-style="normal" >2h</text>
<line x1="490.90" y1="628.50" x2="490.90" y2="630.50" stroke="#111" stroke-width="0.8" />
<text x="490.90" y="640.50" font-size="7.5" text-anchor="middle" fill="#1a1a1a" stroke="#1a1a1a" stroke-width="0.14" font-weight="normal" font-style="normal" >1d</text>
<polyline points="430.70,565.60 460.80,577.30 490.90,608.50" stroke="#cc1137" stroke-width="1.4" fill="none" stroke-linejoin="round" />
<circle cx="430.70" cy="565.60" r="2.10" fill="#cc1137"/>
<circle cx="460.80" cy="577.30" r="2.10" fill="#cc1137"/>
<circle cx="490.90" cy="608.50" r="2.10" fill="#cc1137"/>
<polyline points="430.70,565.60 460.80,588.20 490.90,622.70" stroke="#13528b" stroke-width="1.4" fill="none" stroke-linejoin="round" />
<rect x="428.70" y="563.60" width="4.00" height="4.00" fill="#13528b"/>
<rect x="458.80" y="586.20" width="4.00" height="4.00" fill="#13528b"/>
<rect x="488.90" y="620.70" width="4.00" height="4.00" fill="#13528b"/>
<rect x="457.93" y="596.38" width="1.85" height="1.67" fill="#1a1a1a" rx="0.3"/>
<rect x="460.68" y="596.38" width="1.85" height="1.67" fill="#1a1a1a" rx="0.3"/>
<rect x="463.43" y="596.38" width="1.85" height="1.67" fill="#1a1a1a" rx="0.3"/>
<rect x="496.02" y="619.78" width="1.85" height="1.67" fill="#1a1a1a" rx="0.3"/>
<rect x="498.77" y="619.78" width="1.85" height="1.67" fill="#1a1a1a" rx="0.3"/>
<rect x="501.52" y="619.78" width="1.85" height="1.67" fill="#1a1a1a" rx="0.3"/>
<line x1="479.80" y1="548.50" x2="491.40" y2="548.50" stroke="#cc1137" stroke-width="1.5" />
<circle cx="485.60" cy="548.50" r="2.20" fill="#cc1137"/>
<text x="494.60" y="551.20" font-size="7.4" text-anchor="start" fill="#1a1a1a" stroke="#1a1a1a" stroke-width="0.14" font-weight="normal" font-style="normal" >WT</text>
<line x1="479.80" y1="557.10" x2="491.40" y2="557.10" stroke="#13528b" stroke-width="1.5" />
<rect x="483.40" y="554.90" width="4.40" height="4.40" fill="#13528b"/>
<text x="494.60" y="559.80" font-size="7.4" text-anchor="start" fill="#1a1a1a" stroke="#1a1a1a" stroke-width="0.14" font-weight="normal" font-style="normal" >KQ</text>
<text transform="translate(405.50,588.80) rotate(-90) scale(0.692,1)" font-size="8.7" text-anchor="middle" fill="#1a1a1a" font-weight="bold" font-style="normal">Survival platelets (%)</text>
<rect x="0.5" y="0.5" width="519" height="646" fill="none" stroke="#000" stroke-width="1.3"/>
</svg></body></html>
